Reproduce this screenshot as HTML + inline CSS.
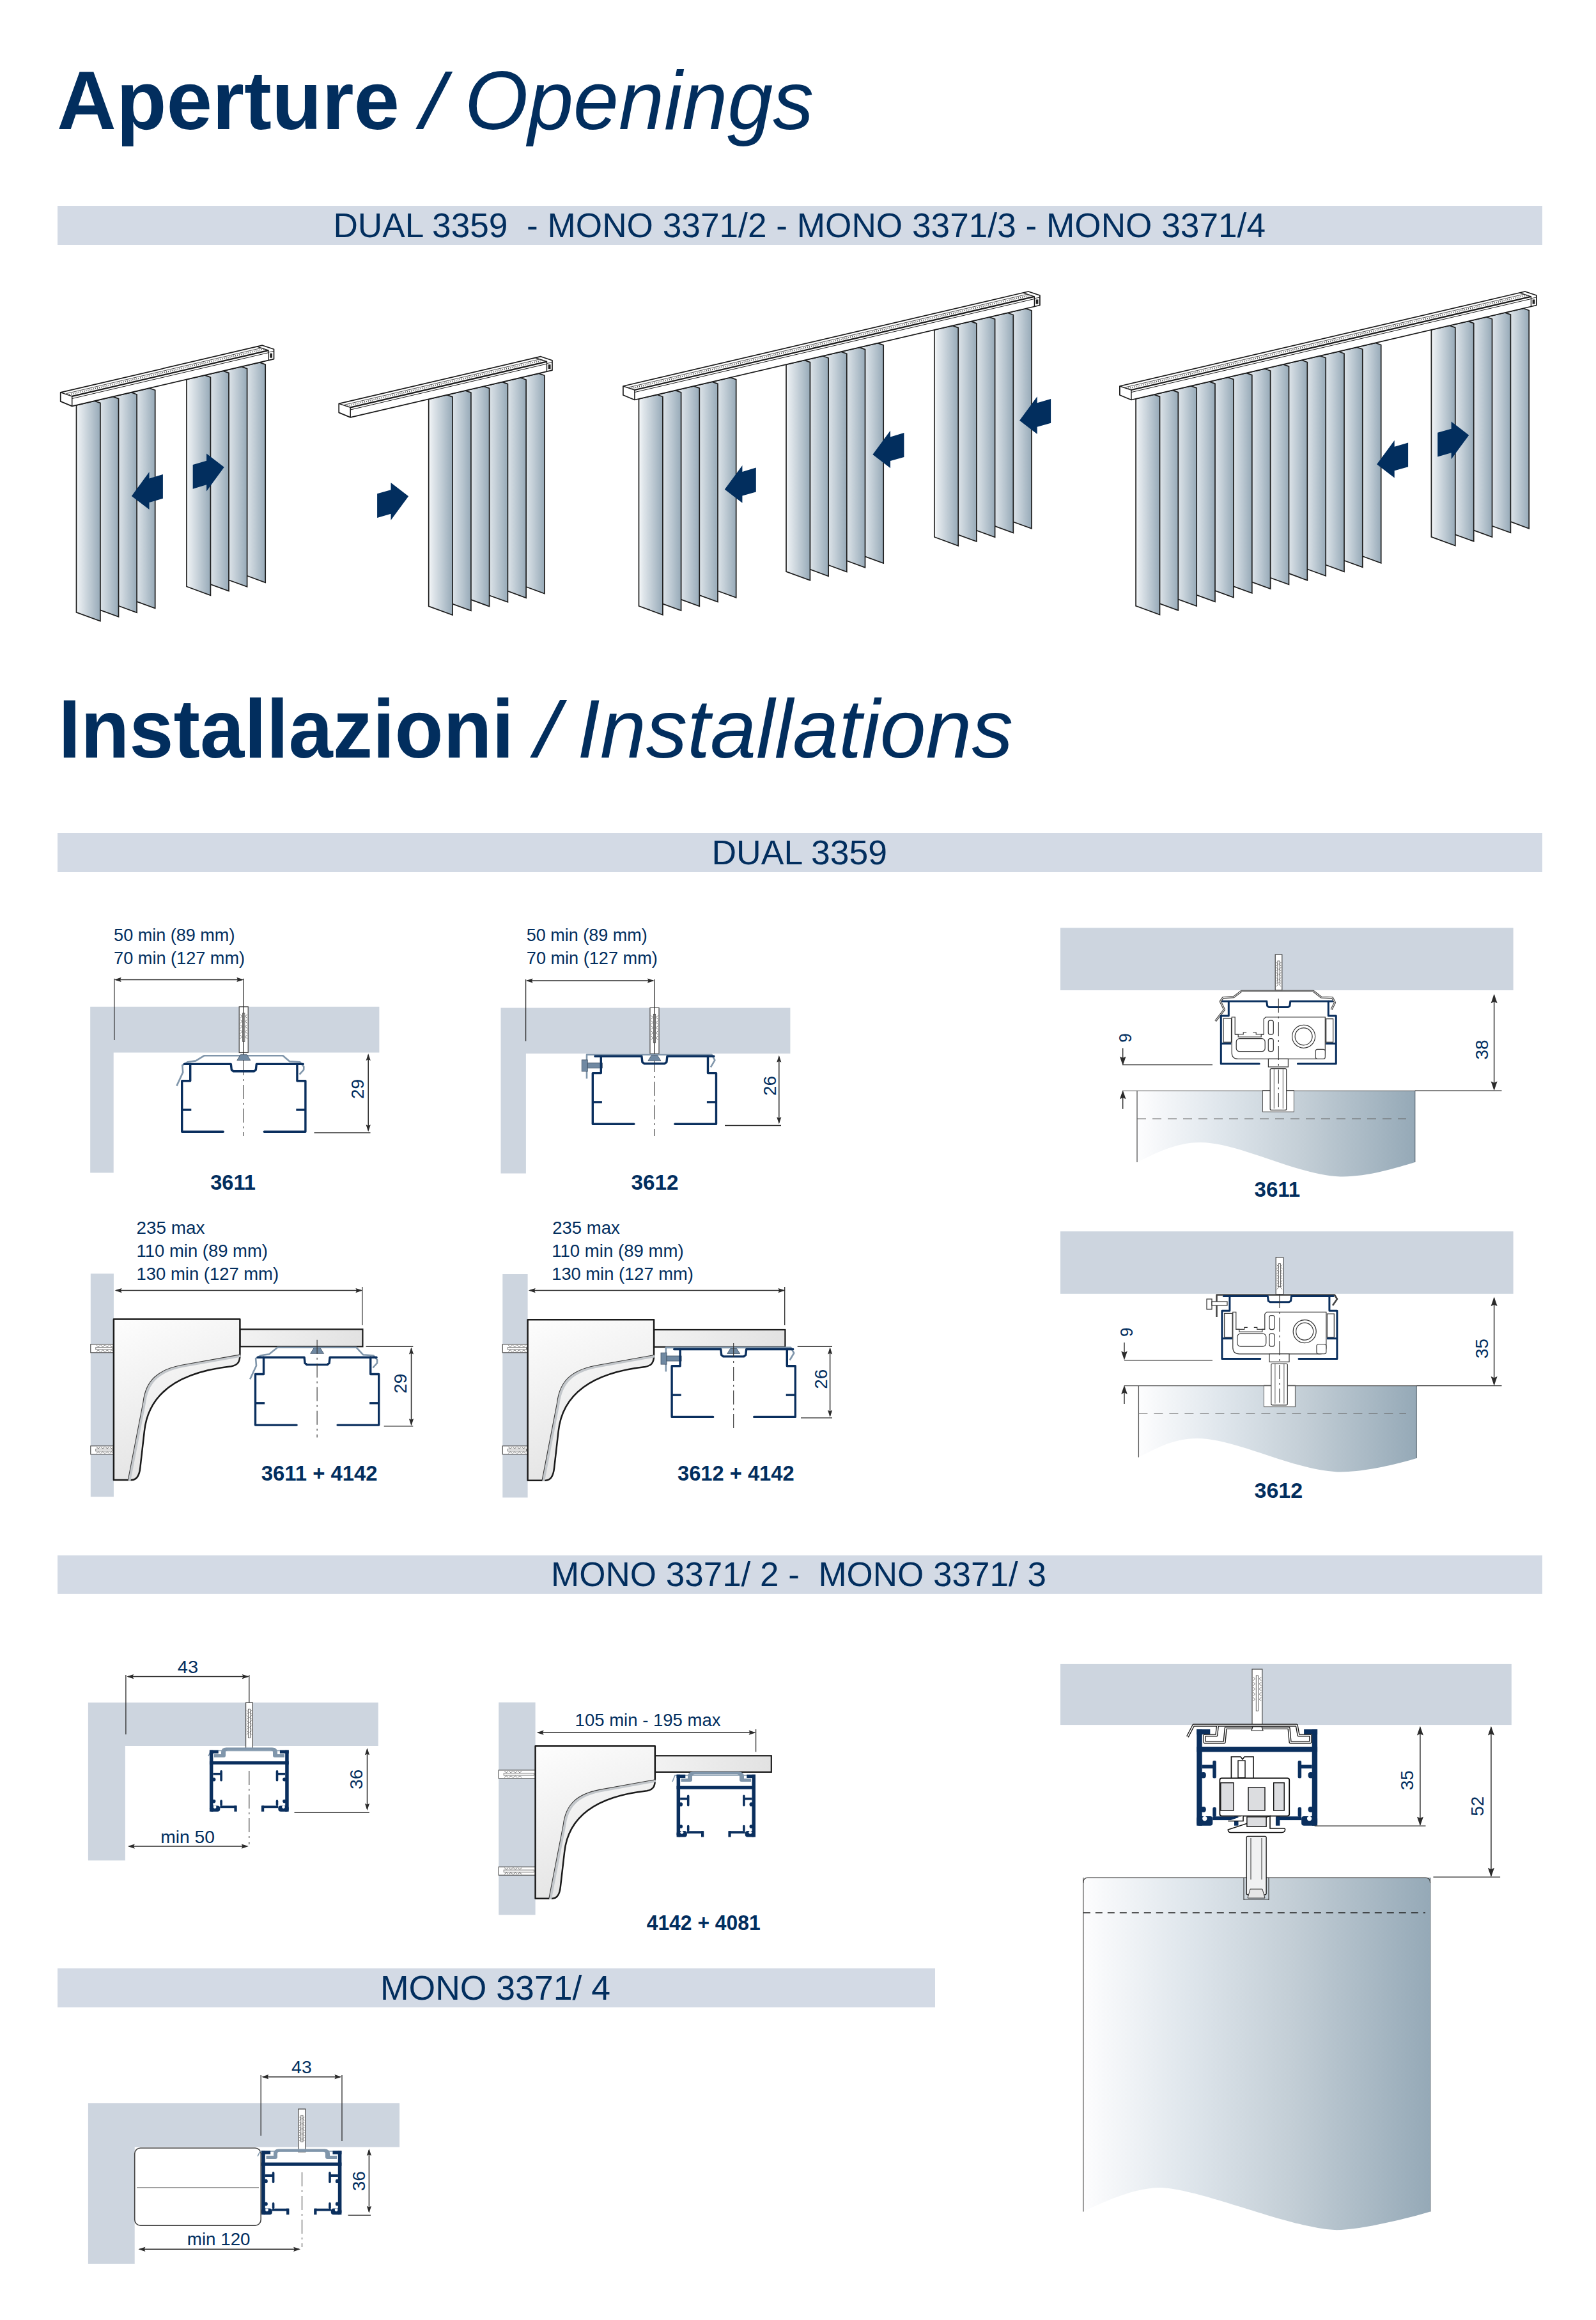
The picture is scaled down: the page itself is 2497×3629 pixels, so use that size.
<!DOCTYPE html><html><head><meta charset="utf-8"><style>html,body{margin:0;padding:0;background:#fff;}svg{display:block;font-family:"Liberation Sans",sans-serif;}</style></head><body><svg width="2497" height="3629" viewBox="0 0 2497 3629"><rect width="2497" height="3629" fill="#fff"/><defs><linearGradient id="slat" x1="0" y1="0" x2="1" y2="0"><stop offset="0" stop-color="#f8fafb"/><stop offset="0.12" stop-color="#e6ebef"/><stop offset="0.55" stop-color="#c0ccd5"/><stop offset="1" stop-color="#97aab8"/></linearGradient><linearGradient id="blindg" x1="0" y1="0" x2="1" y2="0"><stop offset="0" stop-color="#fdfdfe"/><stop offset="0.3" stop-color="#dfe6ec"/><stop offset="0.6" stop-color="#c3ced6"/><stop offset="1" stop-color="#95a9b7"/></linearGradient><linearGradient id="brk" x1="0" y1="0" x2="0.3" y2="1"><stop offset="0" stop-color="#fdfdfd"/><stop offset="1" stop-color="#e4e4e4"/></linearGradient><linearGradient id="arm" x1="0" y1="0" x2="1" y2="0"><stop offset="0" stop-color="#f2f2f2"/><stop offset="1" stop-color="#e2e2e2"/></linearGradient></defs>
<text x="89" y="202" font-size="129" font-weight="bold" font-style="normal" text-anchor="start" fill="#022e5e" textLength="536.1" lengthAdjust="spacingAndGlyphs" >Aperture</text>
<polygon points="650.2,202 662,202 708.2,112 697.1,112" fill="#022e5e"/>
<text x="726.9" y="202" font-size="129" font-weight="normal" font-style="italic" text-anchor="start" fill="#022e5e" textLength="546.1" lengthAdjust="spacingAndGlyphs" >Openings</text>
<text x="91.6" y="1185" font-size="129" font-weight="bold" font-style="normal" text-anchor="start" fill="#022e5e" textLength="712.6" lengthAdjust="spacingAndGlyphs" >Installazioni</text>
<polygon points="829.2,1185 840.8,1185 887.1,1095 876,1095" fill="#022e5e"/>
<text x="903" y="1185" font-size="129" font-weight="normal" font-style="italic" text-anchor="start" fill="#022e5e" textLength="682" lengthAdjust="spacingAndGlyphs" >Installations</text>
<rect x="90" y="322" width="2323" height="61" fill="#d3dae5"/>
<text x="521.4" y="370.7" font-size="53.2" font-weight="normal" font-style="normal" text-anchor="start" fill="#022e5e" textLength="1458.6" lengthAdjust="spacingAndGlyphs" xml:space="preserve">DUAL 3359&#160; - MONO 3371/2 - MONO 3371/3 - MONO 3371/4</text>
<rect x="90" y="1303" width="2323" height="61" fill="#d3dae5"/>
<text x="1113.4" y="1351.7" font-size="53.2" font-weight="normal" font-style="normal" text-anchor="start" fill="#022e5e" textLength="274.7" lengthAdjust="spacingAndGlyphs" >DUAL 3359</text>
<rect x="90" y="2433" width="2323" height="60" fill="#d3dae5"/>
<text x="862" y="2481" font-size="53.2" font-weight="normal" font-style="normal" text-anchor="start" fill="#022e5e" textLength="775" lengthAdjust="spacingAndGlyphs" >MONO 3371/ 2 -&#160; MONO 3371/ 3</text>
<rect x="90" y="3079" width="1373" height="61" fill="#d3dae5"/>
<text x="594.9" y="3128" font-size="53.2" font-weight="normal" font-style="normal" text-anchor="start" fill="#022e5e" textLength="360.1" lengthAdjust="spacingAndGlyphs" >MONO 3371/ 4</text>
<g>
<polygon points="205.3,613.8 233.7,607.1 242.7,610.3 242.7,951.5 205.3,937.8" fill="url(#slat)" stroke="#1d1d1d" stroke-width="1.7" stroke-linejoin="miter"/><polygon points="176.7,620.5 205.1,613.8 214.1,617 214.1,958.2 176.7,944.5" fill="url(#slat)" stroke="#1d1d1d" stroke-width="1.7" stroke-linejoin="miter"/><polygon points="148.1,627.1 176.5,620.5 185.5,623.7 185.5,964.9 148.1,951.1" fill="url(#slat)" stroke="#1d1d1d" stroke-width="1.7" stroke-linejoin="miter"/><polygon points="119.5,633.8 147.9,627.2 156.9,630.4 156.9,971.5 119.5,957.8" fill="url(#slat)" stroke="#1d1d1d" stroke-width="1.7" stroke-linejoin="miter"/>
<polygon points="377.8,573.5 406.2,566.9 415.2,570.1 415.2,911.2 377.8,897.5" fill="url(#slat)" stroke="#1d1d1d" stroke-width="1.7" stroke-linejoin="miter"/><polygon points="349.2,580.2 377.6,573.5 386.6,576.7 386.6,917.9 349.2,904.2" fill="url(#slat)" stroke="#1d1d1d" stroke-width="1.7" stroke-linejoin="miter"/><polygon points="320.6,586.9 349,580.2 358,583.4 358,924.6 320.6,910.9" fill="url(#slat)" stroke="#1d1d1d" stroke-width="1.7" stroke-linejoin="miter"/><polygon points="292,593.5 320.4,586.9 329.4,590.1 329.4,931.3 292,917.5" fill="url(#slat)" stroke="#1d1d1d" stroke-width="1.7" stroke-linejoin="miter"/>
<polygon points="94.7,613.9 410.5,540.2 428.5,546.2 428.5,561.7 112.7,635.4 94.7,627.9" fill="#fff" stroke="#1a1a1a" stroke-width="1.7" stroke-linejoin="round"/><polyline points="94.7,613.9 112.7,619.9 112.7,635.4" fill="none" stroke="#1a1a1a" stroke-width="1.5"/><line x1="103.5" y1="615.7" x2="408.8" y2="544.4" stroke="#333" stroke-width="0.9"/><line x1="108.2" y1="617.3" x2="413.5" y2="546" stroke="#444" stroke-width="2.2" stroke-dasharray="1 2"/><line x1="112.7" y1="619.9" x2="420" y2="548.1" stroke="#1a1a1a" stroke-width="2.3"/><line x1="112.7" y1="623.5" x2="420" y2="551.7" stroke="#1a1a1a" stroke-width="1"/><polyline points="402,542.1 420,548.1 420,563.6" fill="none" stroke="#1a1a1a" stroke-width="1.4"/><line x1="420" y1="551.1" x2="428.5" y2="549.2" stroke="#1a1a1a" stroke-width="0.9"/><rect x="422.2" y="552.7" width="3.8" height="7" fill="#222"/>
</g>
<g>
<polygon points="814.5,590.7 842.9,584.1 851.9,587.3 851.9,928.5 814.5,914.7" fill="url(#slat)" stroke="#1d1d1d" stroke-width="1.7" stroke-linejoin="miter"/><polygon points="785.7,597.4 814.1,590.8 823.1,594 823.1,935.2 785.7,921.4" fill="url(#slat)" stroke="#1d1d1d" stroke-width="1.7" stroke-linejoin="miter"/><polygon points="757,604.2 785.4,597.5 794.4,600.7 794.4,941.9 757,928.2" fill="url(#slat)" stroke="#1d1d1d" stroke-width="1.7" stroke-linejoin="miter"/><polygon points="728.2,610.9 756.6,604.2 765.6,607.4 765.6,948.6 728.2,934.9" fill="url(#slat)" stroke="#1d1d1d" stroke-width="1.7" stroke-linejoin="miter"/><polygon points="699.5,617.6 727.9,611 736.9,614.2 736.9,955.3 699.5,941.6" fill="url(#slat)" stroke="#1d1d1d" stroke-width="1.7" stroke-linejoin="miter"/><polygon points="670.7,624.3 699.1,617.7 708.1,620.9 708.1,962 670.7,948.3" fill="url(#slat)" stroke="#1d1d1d" stroke-width="1.7" stroke-linejoin="miter"/>
<polygon points="530.2,631.4 846,557.7 864,563.7 864,579.2 548.2,652.9 530.2,645.4" fill="#fff" stroke="#1a1a1a" stroke-width="1.7" stroke-linejoin="round"/><polyline points="530.2,631.4 548.2,637.4 548.2,652.9" fill="none" stroke="#1a1a1a" stroke-width="1.5"/><line x1="539" y1="633.2" x2="844.3" y2="561.9" stroke="#333" stroke-width="0.9"/><line x1="543.7" y1="634.8" x2="849" y2="563.5" stroke="#444" stroke-width="2.2" stroke-dasharray="1 2"/><line x1="548.2" y1="637.4" x2="855.5" y2="565.6" stroke="#1a1a1a" stroke-width="2.3"/><line x1="548.2" y1="641" x2="855.5" y2="569.2" stroke="#1a1a1a" stroke-width="1"/><polyline points="837.5,559.6 855.5,565.6 855.5,581.1" fill="none" stroke="#1a1a1a" stroke-width="1.4"/><line x1="855.5" y1="568.6" x2="864" y2="566.7" stroke="#1a1a1a" stroke-width="0.9"/><rect x="857.7" y="570.2" width="3.8" height="7" fill="#222"/>
</g>
<g>
<polygon points="1114.3,597.2 1142.7,590.5 1151.7,593.7 1151.7,934.9 1114.3,921.2" fill="url(#slat)" stroke="#1d1d1d" stroke-width="1.7" stroke-linejoin="miter"/><polygon points="1085.6,603.9 1114,597.2 1123,600.4 1123,941.6 1085.6,927.9" fill="url(#slat)" stroke="#1d1d1d" stroke-width="1.7" stroke-linejoin="miter"/><polygon points="1056.9,610.6 1085.3,603.9 1094.3,607.1 1094.3,948.3 1056.9,934.6" fill="url(#slat)" stroke="#1d1d1d" stroke-width="1.7" stroke-linejoin="miter"/><polygon points="1028.2,617.3 1056.6,610.6 1065.6,613.8 1065.6,955 1028.2,941.3" fill="url(#slat)" stroke="#1d1d1d" stroke-width="1.7" stroke-linejoin="miter"/><polygon points="999.5,624 1027.9,617.3 1036.9,620.5 1036.9,961.7 999.5,948" fill="url(#slat)" stroke="#1d1d1d" stroke-width="1.7" stroke-linejoin="miter"/>
<polygon points="1344.8,543.3 1373.2,536.7 1382.2,539.9 1382.2,881.1 1344.8,867.3" fill="url(#slat)" stroke="#1d1d1d" stroke-width="1.7" stroke-linejoin="miter"/><polygon points="1316.1,550 1344.5,543.4 1353.5,546.6 1353.5,887.8 1316.1,874" fill="url(#slat)" stroke="#1d1d1d" stroke-width="1.7" stroke-linejoin="miter"/><polygon points="1287.4,556.7 1315.8,550.1 1324.8,553.3 1324.8,894.5 1287.4,880.7" fill="url(#slat)" stroke="#1d1d1d" stroke-width="1.7" stroke-linejoin="miter"/><polygon points="1258.7,563.4 1287.1,556.8 1296.1,560 1296.1,901.2 1258.7,887.4" fill="url(#slat)" stroke="#1d1d1d" stroke-width="1.7" stroke-linejoin="miter"/><polygon points="1230,570.1 1258.4,563.5 1267.4,566.7 1267.4,907.9 1230,894.1" fill="url(#slat)" stroke="#1d1d1d" stroke-width="1.7" stroke-linejoin="miter"/>
<polygon points="1576.6,489.2 1605,482.6 1614,485.8 1614,826.9 1576.6,813.2" fill="url(#slat)" stroke="#1d1d1d" stroke-width="1.7" stroke-linejoin="miter"/><polygon points="1547.9,495.9 1576.3,489.3 1585.3,492.5 1585.3,833.6 1547.9,819.9" fill="url(#slat)" stroke="#1d1d1d" stroke-width="1.7" stroke-linejoin="miter"/><polygon points="1519.2,502.6 1547.6,496 1556.6,499.2 1556.6,840.3 1519.2,826.6" fill="url(#slat)" stroke="#1d1d1d" stroke-width="1.7" stroke-linejoin="miter"/><polygon points="1490.5,509.3 1518.9,502.7 1527.9,505.9 1527.9,847 1490.5,833.3" fill="url(#slat)" stroke="#1d1d1d" stroke-width="1.7" stroke-linejoin="miter"/><polygon points="1461.8,516 1490.2,509.4 1499.2,512.6 1499.2,853.7 1461.8,840" fill="url(#slat)" stroke="#1d1d1d" stroke-width="1.7" stroke-linejoin="miter"/>
<polygon points="974.9,604 1608.9,456 1626.9,462 1626.9,477.5 992.9,625.5 974.9,618" fill="#fff" stroke="#1a1a1a" stroke-width="1.7" stroke-linejoin="round"/><polyline points="974.9,604 992.9,610 992.9,625.5" fill="none" stroke="#1a1a1a" stroke-width="1.5"/><line x1="983.7" y1="605.8" x2="1607.2" y2="460.2" stroke="#333" stroke-width="0.9"/><line x1="988.4" y1="607.4" x2="1611.9" y2="461.8" stroke="#444" stroke-width="2.2" stroke-dasharray="1 2"/><line x1="992.9" y1="610" x2="1618.4" y2="463.9" stroke="#1a1a1a" stroke-width="2.3"/><line x1="992.9" y1="613.6" x2="1618.4" y2="467.5" stroke="#1a1a1a" stroke-width="1"/><polyline points="1600.4,457.9 1618.4,463.9 1618.4,479.4" fill="none" stroke="#1a1a1a" stroke-width="1.4"/><line x1="1618.4" y1="466.9" x2="1626.9" y2="465" stroke="#1a1a1a" stroke-width="0.9"/><rect x="1620.6" y="468.5" width="3.8" height="7" fill="#222"/>
</g>
<g>
<polygon points="2123.3,543 2151.7,536.3 2160.7,539.5 2160.7,880.7 2123.3,867" fill="url(#slat)" stroke="#1d1d1d" stroke-width="1.7" stroke-linejoin="miter"/><polygon points="2094.4,549.7 2122.8,543.1 2131.8,546.3 2131.8,887.4 2094.4,873.7" fill="url(#slat)" stroke="#1d1d1d" stroke-width="1.7" stroke-linejoin="miter"/><polygon points="2065.6,556.5 2094,549.8 2103,553 2103,894.2 2065.6,880.5" fill="url(#slat)" stroke="#1d1d1d" stroke-width="1.7" stroke-linejoin="miter"/><polygon points="2036.8,563.2 2065.2,556.6 2074.2,559.8 2074.2,900.9 2036.8,887.2" fill="url(#slat)" stroke="#1d1d1d" stroke-width="1.7" stroke-linejoin="miter"/><polygon points="2007.9,569.9 2036.3,563.3 2045.3,566.5 2045.3,907.7 2007.9,893.9" fill="url(#slat)" stroke="#1d1d1d" stroke-width="1.7" stroke-linejoin="miter"/><polygon points="1979,576.7 2007.5,570 2016.5,573.2 2016.5,914.4 1979,900.7" fill="url(#slat)" stroke="#1d1d1d" stroke-width="1.7" stroke-linejoin="miter"/><polygon points="1950.2,583.4 1978.6,576.8 1987.6,580 1987.6,921.1 1950.2,907.4" fill="url(#slat)" stroke="#1d1d1d" stroke-width="1.7" stroke-linejoin="miter"/><polygon points="1921.3,590.1 1949.8,583.5 1958.8,586.7 1958.8,927.9 1921.3,914.1" fill="url(#slat)" stroke="#1d1d1d" stroke-width="1.7" stroke-linejoin="miter"/><polygon points="1892.5,596.9 1920.9,590.2 1929.9,593.4 1929.9,934.6 1892.5,920.9" fill="url(#slat)" stroke="#1d1d1d" stroke-width="1.7" stroke-linejoin="miter"/><polygon points="1863.6,603.6 1892,597 1901,600.2 1901,941.3 1863.6,927.6" fill="url(#slat)" stroke="#1d1d1d" stroke-width="1.7" stroke-linejoin="miter"/><polygon points="1834.8,610.3 1863.2,603.7 1872.2,606.9 1872.2,948.1 1834.8,934.3" fill="url(#slat)" stroke="#1d1d1d" stroke-width="1.7" stroke-linejoin="miter"/><polygon points="1805.9,617.1 1834.3,610.5 1843.3,613.7 1843.3,954.8 1805.9,941.1" fill="url(#slat)" stroke="#1d1d1d" stroke-width="1.7" stroke-linejoin="miter"/><polygon points="1777.1,623.8 1805.5,617.2 1814.5,620.4 1814.5,961.5 1777.1,947.8" fill="url(#slat)" stroke="#1d1d1d" stroke-width="1.7" stroke-linejoin="miter"/>
<polygon points="2354.8,488.9 2383.2,482.3 2392.2,485.5 2392.2,826.7 2354.8,812.9" fill="url(#slat)" stroke="#1d1d1d" stroke-width="1.7" stroke-linejoin="miter"/><polygon points="2326,495.7 2354.4,489 2363.4,492.2 2363.4,833.4 2326,819.7" fill="url(#slat)" stroke="#1d1d1d" stroke-width="1.7" stroke-linejoin="miter"/><polygon points="2297.1,502.4 2325.5,495.8 2334.5,499 2334.5,840.1 2297.1,826.4" fill="url(#slat)" stroke="#1d1d1d" stroke-width="1.7" stroke-linejoin="miter"/><polygon points="2268.2,509.1 2296.7,502.5 2305.7,505.7 2305.7,846.9 2268.2,833.1" fill="url(#slat)" stroke="#1d1d1d" stroke-width="1.7" stroke-linejoin="miter"/><polygon points="2239.4,515.9 2267.8,509.2 2276.8,512.4 2276.8,853.6 2239.4,839.9" fill="url(#slat)" stroke="#1d1d1d" stroke-width="1.7" stroke-linejoin="miter"/>
<polygon points="1751.9,604 2385.9,456 2403.9,462 2403.9,477.5 1769.9,625.5 1751.9,618" fill="#fff" stroke="#1a1a1a" stroke-width="1.7" stroke-linejoin="round"/><polyline points="1751.9,604 1769.9,610 1769.9,625.5" fill="none" stroke="#1a1a1a" stroke-width="1.5"/><line x1="1760.7" y1="605.8" x2="2384.2" y2="460.2" stroke="#333" stroke-width="0.9"/><line x1="1765.4" y1="607.4" x2="2388.9" y2="461.8" stroke="#444" stroke-width="2.2" stroke-dasharray="1 2"/><line x1="1769.9" y1="610" x2="2395.4" y2="463.9" stroke="#1a1a1a" stroke-width="2.3"/><line x1="1769.9" y1="613.6" x2="2395.4" y2="467.5" stroke="#1a1a1a" stroke-width="1"/><polyline points="2377.4,457.9 2395.4,463.9 2395.4,479.4" fill="none" stroke="#1a1a1a" stroke-width="1.4"/><line x1="2395.4" y1="466.9" x2="2403.9" y2="465" stroke="#1a1a1a" stroke-width="0.9"/><rect x="2397.6" y="468.5" width="3.8" height="7" fill="#222"/>
</g>
<polygon points="205.9,775.9 233.5,797.1 233.5,785.9 254.9,779.8 254.9,742 233.5,748.4 233.5,738.3" fill="#022e5e"/>
<polygon points="350.7,730.8 323.1,709.6 323.1,720.8 301.7,726.9 301.7,764.7 323.1,758.3 323.1,768.4" fill="#022e5e"/>
<polygon points="639.1,776.2 611.5,755 611.5,766.2 590.1,772.3 590.1,810.1 611.5,803.7 611.5,813.8" fill="#022e5e"/>
<polygon points="1133.8,765.5 1161.4,786.7 1161.4,775.5 1182.8,769.4 1182.8,731.6 1161.4,738 1161.4,727.9" fill="#022e5e"/>
<polygon points="1365.4,711 1393,732.2 1393,721 1414.4,714.9 1414.4,677.1 1393,683.5 1393,673.4" fill="#022e5e"/>
<polygon points="1595.1,657.8 1622.7,679 1622.7,667.8 1644.1,661.7 1644.1,623.9 1622.7,630.3 1622.7,620.2" fill="#022e5e"/>
<polygon points="2154.1,726.3 2181.7,747.5 2181.7,736.3 2203.1,730.2 2203.1,692.4 2181.7,698.8 2181.7,688.7" fill="#022e5e"/>
<polygon points="2298.2,680.7 2270.6,659.5 2270.6,670.7 2249.2,676.8 2249.2,714.6 2270.6,708.2 2270.6,718.3" fill="#022e5e"/>
<path d="M141.2 1574.8H593.4V1646.5H177.7V1834.5H141.2Z" fill="#cdd5df"/>
<text x="178.1" y="1472.4" font-size="27.5" font-weight="normal" font-style="normal" text-anchor="start" fill="#022e5e" textLength="189.3" lengthAdjust="spacingAndGlyphs" >50 min (89 mm)</text>
<text x="178.1" y="1507.8" font-size="27.5" font-weight="normal" font-style="normal" text-anchor="start" fill="#022e5e" textLength="205" lengthAdjust="spacingAndGlyphs" >70 min (127 mm)</text>
<line x1="178.7" y1="1530.8" x2="178.7" y2="1626.9" stroke="#2b2b2b" stroke-width="1.3" />
<line x1="180.7" y1="1532.4" x2="379.3" y2="1532.4" stroke="#2b2b2b" stroke-width="1.5" />
<polygon points="178.7,1532.4 189.7,1528.8 188,1532.4 189.7,1536" fill="#2b2b2b"/>
<polygon points="381.3,1532.4 370.3,1536 371.9,1532.4 370.3,1528.8" fill="#2b2b2b"/>
<rect x="374.2" y="1574.8" width="14" height="71.7" fill="#fff" stroke="#444" stroke-width="1.2"/>
<rect x="379.6" y="1584.8" width="3.2" height="44.5" fill="none" stroke="#555" stroke-width="0.9"/>
<polyline points="375.7,1586.8 378.7,1589.8 375.7,1592.8" fill="none" stroke="#666" stroke-width="0.9"/>
<polyline points="386.7,1586.8 383.7,1589.8 386.7,1592.8" fill="none" stroke="#666" stroke-width="0.9"/>
<polyline points="375.7,1594.8 378.7,1597.8 375.7,1600.8" fill="none" stroke="#666" stroke-width="0.9"/>
<polyline points="386.7,1594.8 383.7,1597.8 386.7,1600.8" fill="none" stroke="#666" stroke-width="0.9"/>
<polyline points="375.7,1602.8 378.7,1605.8 375.7,1608.8" fill="none" stroke="#666" stroke-width="0.9"/>
<polyline points="386.7,1602.8 383.7,1605.8 386.7,1608.8" fill="none" stroke="#666" stroke-width="0.9"/>
<polyline points="375.7,1610.8 378.7,1613.8 375.7,1616.8" fill="none" stroke="#666" stroke-width="0.9"/>
<polyline points="386.7,1610.8 383.7,1613.8 386.7,1616.8" fill="none" stroke="#666" stroke-width="0.9"/>
<polyline points="375.7,1618.8 378.7,1621.8 375.7,1624.8" fill="none" stroke="#666" stroke-width="0.9"/>
<polyline points="386.7,1618.8 383.7,1621.8 386.7,1624.8" fill="none" stroke="#666" stroke-width="0.9"/>
<line x1="381.3" y1="1530.8" x2="381.3" y2="1660" stroke="#2b2b2b" stroke-width="1.3" />
<line x1="381.3" y1="1660" x2="381.3" y2="1777" stroke="#333" stroke-width="1.1" stroke-dasharray="22 6 3 6"/>
<path d="M276.4,1698.6 L286.2,1677.4 L285.3,1666.4 L293.3,1661.4 L306.3,1659.4 L319.3,1651.3 L442.6,1651.3 L453.3,1660.4 L469.3,1661.4 L475.3,1668.4 L475.2,1673.4 L468.6,1680.7" fill="none" stroke="#8096ab" stroke-width="2.6" stroke-linejoin="round"/>
<polygon points="376.3,1649.7 386.3,1649.7 391.8,1658.5 370.8,1658.5" fill="#7089a2" stroke="#3d4f63" stroke-width="0.8"/>
<polyline points="288.3,1664.4 361.3,1664.4 362.3,1673.4 365.3,1675.8 397.3,1675.8 400.3,1673.4 401.3,1664.4 474.3,1664.4" fill="none" stroke="#0a2f5e" stroke-width="3.4" stroke-linejoin="round" stroke-linecap="round"/>
<polyline points="297.7,1664.4 297.7,1690.7 284.7,1690.7 284.7,1770.3 349.3,1770.3" fill="none" stroke="#0a2f5e" stroke-width="3.4" stroke-linejoin="round" stroke-linecap="round"/>
<line x1="284.7" y1="1736" x2="299.3" y2="1736" stroke="#0a2f5e" stroke-width="3.4" />
<polyline points="464.9,1664.4 464.9,1690.7 477.9,1690.7 477.9,1770.3 413.3,1770.3" fill="none" stroke="#0a2f5e" stroke-width="3.4" stroke-linejoin="round" stroke-linecap="round"/>
<line x1="477.9" y1="1736" x2="463.3" y2="1736" stroke="#0a2f5e" stroke-width="3.4" />
<line x1="576.2" y1="1650" x2="576.2" y2="1768.3" stroke="#2b2b2b" stroke-width="1.5" />
<polygon points="576.2,1648 579.8,1659 576.2,1657.3 572.6,1659" fill="#2b2b2b"/>
<polygon points="576.2,1770.3 572.6,1759.3 576.2,1761 579.8,1759.3" fill="#2b2b2b"/>
<line x1="491.5" y1="1771.9" x2="579.5" y2="1771.9" stroke="#2b2b2b" stroke-width="1.3" />
<text transform="translate(558.9,1703.5) rotate(-90)" x="0" y="10.1" font-size="28" text-anchor="middle" fill="#022e5e" textLength="31" lengthAdjust="spacingAndGlyphs">29</text>
<text x="329.2" y="1861" font-size="32.5" font-weight="bold" font-style="normal" text-anchor="start" fill="#022e5e" textLength="70.7" lengthAdjust="spacingAndGlyphs" >3611</text>
<path d="M783.5 1576.4H1236.4V1648.1H822.9V1835.4H783.5Z" fill="#cdd5df"/>
<text x="823.8" y="1472.4" font-size="27.5" font-weight="normal" font-style="normal" text-anchor="start" fill="#022e5e" textLength="188.9" lengthAdjust="spacingAndGlyphs" >50 min (89 mm)</text>
<text x="823.8" y="1507.8" font-size="27.5" font-weight="normal" font-style="normal" text-anchor="start" fill="#022e5e" textLength="205" lengthAdjust="spacingAndGlyphs" >70 min (127 mm)</text>
<line x1="822.6" y1="1532" x2="822.6" y2="1628.5" stroke="#2b2b2b" stroke-width="1.3" />
<line x1="824.6" y1="1534" x2="1021.9" y2="1534" stroke="#2b2b2b" stroke-width="1.5" />
<polygon points="822.6,1534 833.6,1530.4 832,1534 833.6,1537.6" fill="#2b2b2b"/>
<polygon points="1023.9,1534 1012.9,1537.6 1014.5,1534 1012.9,1530.4" fill="#2b2b2b"/>
<rect x="1017" y="1576.4" width="14" height="71.7" fill="#fff" stroke="#444" stroke-width="1.2"/>
<rect x="1022.4" y="1586.4" width="3.2" height="44.5" fill="none" stroke="#555" stroke-width="0.9"/>
<polyline points="1018.5,1588.4 1021.5,1591.4 1018.5,1594.4" fill="none" stroke="#666" stroke-width="0.9"/>
<polyline points="1029.5,1588.4 1026.5,1591.4 1029.5,1594.4" fill="none" stroke="#666" stroke-width="0.9"/>
<polyline points="1018.5,1596.4 1021.5,1599.4 1018.5,1602.4" fill="none" stroke="#666" stroke-width="0.9"/>
<polyline points="1029.5,1596.4 1026.5,1599.4 1029.5,1602.4" fill="none" stroke="#666" stroke-width="0.9"/>
<polyline points="1018.5,1604.4 1021.5,1607.4 1018.5,1610.4" fill="none" stroke="#666" stroke-width="0.9"/>
<polyline points="1029.5,1604.4 1026.5,1607.4 1029.5,1610.4" fill="none" stroke="#666" stroke-width="0.9"/>
<polyline points="1018.5,1612.4 1021.5,1615.4 1018.5,1618.4" fill="none" stroke="#666" stroke-width="0.9"/>
<polyline points="1029.5,1612.4 1026.5,1615.4 1029.5,1618.4" fill="none" stroke="#666" stroke-width="0.9"/>
<polyline points="1018.5,1620.4 1021.5,1623.4 1018.5,1626.4" fill="none" stroke="#666" stroke-width="0.9"/>
<polyline points="1029.5,1620.4 1026.5,1623.4 1029.5,1626.4" fill="none" stroke="#666" stroke-width="0.9"/>
<line x1="1023.9" y1="1532" x2="1023.9" y2="1655" stroke="#2b2b2b" stroke-width="1.3" />
<line x1="1023.9" y1="1655" x2="1023.9" y2="1777" stroke="#333" stroke-width="1.1" stroke-dasharray="22 6 3 6"/>
<polyline points="918,1687.2 918,1649.7 1113.5,1649.7 1118.4,1658.3 1111.9,1669.3" fill="none" stroke="#8096ab" stroke-width="2.6" stroke-linejoin="round"/>
<rect x="910.2" y="1657.9" width="9" height="18" fill="#7089a2" stroke="#3d4f63" stroke-width="0.8"/>
<rect x="919.3" y="1662.8" width="23" height="8" fill="#7089a2" stroke="#3d4f63" stroke-width="0.8"/>
<polygon points="1018.9,1651.3 1028.9,1651.3 1033.9,1659.3 1013.9,1659.3" fill="#7089a2" stroke="#3d4f63" stroke-width="0.8"/>
<polyline points="930.9,1652.3 1003.9,1652.3 1004.9,1661.3 1007.9,1663.7 1039.9,1663.7 1042.9,1661.3 1043.9,1652.3 1116.9,1652.3" fill="none" stroke="#0a2f5e" stroke-width="3.4" stroke-linejoin="round" stroke-linecap="round"/>
<polyline points="940.3,1652.3 940.3,1678.6 927.3,1678.6 927.3,1758.2 991.9,1758.2" fill="none" stroke="#0a2f5e" stroke-width="3.4" stroke-linejoin="round" stroke-linecap="round"/>
<line x1="927.3" y1="1723.9" x2="941.9" y2="1723.9" stroke="#0a2f5e" stroke-width="3.4" />
<polyline points="1107.5,1652.3 1107.5,1678.6 1120.5,1678.6 1120.5,1758.2 1055.9,1758.2" fill="none" stroke="#0a2f5e" stroke-width="3.4" stroke-linejoin="round" stroke-linecap="round"/>
<line x1="1120.5" y1="1723.9" x2="1105.9" y2="1723.9" stroke="#0a2f5e" stroke-width="3.4" />
<line x1="1218.8" y1="1652.7" x2="1218.8" y2="1756.2" stroke="#2b2b2b" stroke-width="1.5" />
<polygon points="1218.8,1650.7 1222.4,1661.7 1218.8,1660 1215.2,1661.7" fill="#2b2b2b"/>
<polygon points="1218.8,1758.2 1215.2,1747.2 1218.8,1748.9 1222.4,1747.2" fill="#2b2b2b"/>
<line x1="1134" y1="1760.5" x2="1222" y2="1760.5" stroke="#2b2b2b" stroke-width="1.3" />
<text transform="translate(1203.8,1698.6) rotate(-90)" x="0" y="10.1" font-size="28" text-anchor="middle" fill="#022e5e" textLength="31" lengthAdjust="spacingAndGlyphs">26</text>
<text x="987.4" y="1861" font-size="32.5" font-weight="bold" font-style="normal" text-anchor="start" fill="#022e5e" textLength="74" lengthAdjust="spacingAndGlyphs" >3612</text>
<rect x="141.8" y="1992.3" width="36.1" height="349.1" fill="#cdd5df"/>
<rect x="141.8" y="2102.8" width="36.1" height="13" fill="#fff" stroke="#444" stroke-width="1.1"/>
<rect x="149.8" y="2107.7" width="26.1" height="3.2" fill="none" stroke="#666" stroke-width="0.9"/>
<polyline points="150.8,2104.3 153.8,2106.8 156.8,2104.3" fill="none" stroke="#666" stroke-width="0.9"/>
<polyline points="150.8,2114.3 153.8,2111.8 156.8,2114.3" fill="none" stroke="#666" stroke-width="0.9"/>
<polyline points="157.8,2104.3 160.8,2106.8 163.8,2104.3" fill="none" stroke="#666" stroke-width="0.9"/>
<polyline points="157.8,2114.3 160.8,2111.8 163.8,2114.3" fill="none" stroke="#666" stroke-width="0.9"/>
<polyline points="164.8,2104.3 167.8,2106.8 170.8,2104.3" fill="none" stroke="#666" stroke-width="0.9"/>
<polyline points="164.8,2114.3 167.8,2111.8 170.8,2114.3" fill="none" stroke="#666" stroke-width="0.9"/>
<polyline points="171.8,2104.3 174.8,2106.8 177.8,2104.3" fill="none" stroke="#666" stroke-width="0.9"/>
<polyline points="171.8,2114.3 174.8,2111.8 177.8,2114.3" fill="none" stroke="#666" stroke-width="0.9"/>
<rect x="141.8" y="2261.8" width="36.1" height="13" fill="#fff" stroke="#444" stroke-width="1.1"/>
<rect x="149.8" y="2266.7" width="26.1" height="3.2" fill="none" stroke="#666" stroke-width="0.9"/>
<polyline points="150.8,2263.3 153.8,2265.8 156.8,2263.3" fill="none" stroke="#666" stroke-width="0.9"/>
<polyline points="150.8,2273.3 153.8,2270.8 156.8,2273.3" fill="none" stroke="#666" stroke-width="0.9"/>
<polyline points="157.8,2263.3 160.8,2265.8 163.8,2263.3" fill="none" stroke="#666" stroke-width="0.9"/>
<polyline points="157.8,2273.3 160.8,2270.8 163.8,2273.3" fill="none" stroke="#666" stroke-width="0.9"/>
<polyline points="164.8,2263.3 167.8,2265.8 170.8,2263.3" fill="none" stroke="#666" stroke-width="0.9"/>
<polyline points="164.8,2273.3 167.8,2270.8 170.8,2273.3" fill="none" stroke="#666" stroke-width="0.9"/>
<polyline points="171.8,2263.3 174.8,2265.8 177.8,2263.3" fill="none" stroke="#666" stroke-width="0.9"/>
<polyline points="171.8,2273.3 174.8,2270.8 177.8,2273.3" fill="none" stroke="#666" stroke-width="0.9"/>
<text x="213.6" y="1929.8" font-size="27.5" font-weight="normal" font-style="normal" text-anchor="start" fill="#022e5e" textLength="106.8" lengthAdjust="spacingAndGlyphs" >235 max</text>
<text x="213.6" y="1966" font-size="27.5" font-weight="normal" font-style="normal" text-anchor="start" fill="#022e5e" textLength="205.4" lengthAdjust="spacingAndGlyphs" >110 min (89 mm)</text>
<text x="213.6" y="2002.1" font-size="27.5" font-weight="normal" font-style="normal" text-anchor="start" fill="#022e5e" textLength="222.5" lengthAdjust="spacingAndGlyphs" >130 min (127 mm)</text>
<line x1="181.6" y1="2018.6" x2="565.4" y2="2018.6" stroke="#2b2b2b" stroke-width="1.5" />
<polygon points="179.6,2018.6 190.6,2015 188.9,2018.6 190.6,2022.2" fill="#2b2b2b"/>
<polygon points="567.4,2018.6 556.4,2022.2 558,2018.6 556.4,2015" fill="#2b2b2b"/>
<line x1="566.7" y1="2013" x2="566.7" y2="2073" stroke="#2b2b2b" stroke-width="1.3" />
<g>
<rect x="375.4" y="2079.3" width="192" height="27" fill="url(#arm)" stroke="#1a1a1a" stroke-width="2.2"/>
<path d="M177.9,2063.5 L375.4,2063.5 L375.4,2119.5 C375.4,2131.5 370.9,2135.5 361.9,2137.3 C287.9,2145.5 232.9,2173.5 225.9,2238.5 L219.4,2295.5 C217.9,2309.5 212.9,2315 205.9,2315 L177.9,2315 Z" fill="url(#brk)" stroke="#1a1a1a" stroke-width="2.5" stroke-linejoin="round"/>
<path d="M374.4,2119.1 L282.9,2135.5 C247.9,2142.5 227.9,2158.5 223.9,2193.5 L200.4,2314.5" fill="none" stroke="#c3c7cb" stroke-width="4" transform="translate(2,1.6)"/>
<path d="M374.4,2119.1 L282.9,2135.5 C247.9,2142.5 227.9,2158.5 223.9,2193.5 L200.4,2314.5" fill="none" stroke="#3a3a3a" stroke-width="1.1"/>
</g>
<polyline points="391.2,2157.4 401,2136.2 400.1,2125.2 408.1,2120.2 421.1,2118.2 434.1,2107.7 557.4,2107.7 568.1,2119.2 584.1,2120.2 590.1,2127.2 590,2132.2 583.4,2139.5" fill="none" stroke="#8096ab" stroke-width="2.6" stroke-linejoin="round"/>
<polygon points="491.1,2108.5 501.1,2108.5 506.6,2117.3 485.6,2117.3" fill="#7089a2" stroke="#3d4f63" stroke-width="0.8"/>
<polyline points="403.1,2123.2 476.1,2123.2 477.1,2132.2 480.1,2134.6 512.1,2134.6 515.1,2132.2 516.1,2123.2 589.1,2123.2" fill="none" stroke="#0a2f5e" stroke-width="3.4" stroke-linejoin="round" stroke-linecap="round"/>
<polyline points="412.5,2123.2 412.5,2149.5 399.5,2149.5 399.5,2229.1 464.1,2229.1" fill="none" stroke="#0a2f5e" stroke-width="3.4" stroke-linejoin="round" stroke-linecap="round"/>
<line x1="399.5" y1="2194.8" x2="414.1" y2="2194.8" stroke="#0a2f5e" stroke-width="3.4" />
<polyline points="579.7,2123.2 579.7,2149.5 592.7,2149.5 592.7,2229.1 528.1,2229.1" fill="none" stroke="#0a2f5e" stroke-width="3.4" stroke-linejoin="round" stroke-linecap="round"/>
<line x1="592.7" y1="2194.8" x2="578.1" y2="2194.8" stroke="#0a2f5e" stroke-width="3.4" />
<line x1="496.1" y1="2095.8" x2="496.1" y2="2248.4" stroke="#333" stroke-width="1.1" stroke-dasharray="22 6 3 6"/>
<line x1="643.5" y1="2109.4" x2="643.5" y2="2228.2" stroke="#2b2b2b" stroke-width="1.5" />
<polygon points="643.5,2107.4 647.1,2118.4 643.5,2116.8 639.9,2118.4" fill="#2b2b2b"/>
<polygon points="643.5,2230.2 639.9,2219.2 643.5,2220.8 647.1,2219.2" fill="#2b2b2b"/>
<line x1="572.6" y1="2106.3" x2="646.3" y2="2106.3" stroke="#2b2b2b" stroke-width="1.3" />
<line x1="600.7" y1="2230.9" x2="646.3" y2="2230.9" stroke="#2b2b2b" stroke-width="1.3" />
<text transform="translate(626,2164.2) rotate(-90)" x="0" y="10.1" font-size="28" text-anchor="middle" fill="#022e5e" textLength="31" lengthAdjust="spacingAndGlyphs">29</text>
<text x="408.7" y="2316" font-size="32.5" font-weight="bold" font-style="normal" text-anchor="start" fill="#022e5e" textLength="181.9" lengthAdjust="spacingAndGlyphs" >3611 + 4142</text>
<rect x="786.3" y="1993" width="39.3" height="349.5" fill="#cdd5df"/>
<rect x="786.3" y="2102.8" width="39.3" height="13" fill="#fff" stroke="#444" stroke-width="1.1"/>
<rect x="794.3" y="2107.7" width="29.3" height="3.2" fill="none" stroke="#666" stroke-width="0.9"/>
<polyline points="795.3,2104.3 798.3,2106.8 801.3,2104.3" fill="none" stroke="#666" stroke-width="0.9"/>
<polyline points="795.3,2114.3 798.3,2111.8 801.3,2114.3" fill="none" stroke="#666" stroke-width="0.9"/>
<polyline points="802.3,2104.3 805.3,2106.8 808.3,2104.3" fill="none" stroke="#666" stroke-width="0.9"/>
<polyline points="802.3,2114.3 805.3,2111.8 808.3,2114.3" fill="none" stroke="#666" stroke-width="0.9"/>
<polyline points="809.3,2104.3 812.3,2106.8 815.3,2104.3" fill="none" stroke="#666" stroke-width="0.9"/>
<polyline points="809.3,2114.3 812.3,2111.8 815.3,2114.3" fill="none" stroke="#666" stroke-width="0.9"/>
<polyline points="816.3,2104.3 819.3,2106.8 822.3,2104.3" fill="none" stroke="#666" stroke-width="0.9"/>
<polyline points="816.3,2114.3 819.3,2111.8 822.3,2114.3" fill="none" stroke="#666" stroke-width="0.9"/>
<rect x="786.3" y="2261.8" width="39.3" height="13" fill="#fff" stroke="#444" stroke-width="1.1"/>
<rect x="794.3" y="2266.7" width="29.3" height="3.2" fill="none" stroke="#666" stroke-width="0.9"/>
<polyline points="795.3,2263.3 798.3,2265.8 801.3,2263.3" fill="none" stroke="#666" stroke-width="0.9"/>
<polyline points="795.3,2273.3 798.3,2270.8 801.3,2273.3" fill="none" stroke="#666" stroke-width="0.9"/>
<polyline points="802.3,2263.3 805.3,2265.8 808.3,2263.3" fill="none" stroke="#666" stroke-width="0.9"/>
<polyline points="802.3,2273.3 805.3,2270.8 808.3,2273.3" fill="none" stroke="#666" stroke-width="0.9"/>
<polyline points="809.3,2263.3 812.3,2265.8 815.3,2263.3" fill="none" stroke="#666" stroke-width="0.9"/>
<polyline points="809.3,2273.3 812.3,2270.8 815.3,2273.3" fill="none" stroke="#666" stroke-width="0.9"/>
<polyline points="816.3,2263.3 819.3,2265.8 822.3,2263.3" fill="none" stroke="#666" stroke-width="0.9"/>
<polyline points="816.3,2273.3 819.3,2270.8 822.3,2273.3" fill="none" stroke="#666" stroke-width="0.9"/>
<text x="864.2" y="1929.8" font-size="27.5" font-weight="normal" font-style="normal" text-anchor="start" fill="#022e5e" textLength="105.6" lengthAdjust="spacingAndGlyphs" >235 max</text>
<text x="863.2" y="1966" font-size="27.5" font-weight="normal" font-style="normal" text-anchor="start" fill="#022e5e" textLength="206.5" lengthAdjust="spacingAndGlyphs" >110 min (89 mm)</text>
<text x="863.2" y="2002.1" font-size="27.5" font-weight="normal" font-style="normal" text-anchor="start" fill="#022e5e" textLength="221.7" lengthAdjust="spacingAndGlyphs" >130 min (127 mm)</text>
<line x1="828.7" y1="2018.6" x2="1226.4" y2="2018.6" stroke="#2b2b2b" stroke-width="1.5" />
<polygon points="826.7,2018.6 837.7,2015 836.1,2018.6 837.7,2022.2" fill="#2b2b2b"/>
<polygon points="1228.4,2018.6 1217.4,2022.2 1219.1,2018.6 1217.4,2015" fill="#2b2b2b"/>
<line x1="1227.7" y1="2013" x2="1227.7" y2="2073" stroke="#2b2b2b" stroke-width="1.3" />
<g>
<rect x="1023.1" y="2080" width="205.3" height="27" fill="url(#arm)" stroke="#1a1a1a" stroke-width="2.2"/>
<path d="M825.6,2064.2 L1023.1,2064.2 L1023.1,2120.2 C1023.1,2132.2 1018.6,2136.2 1009.6,2138 C935.6,2146.2 880.6,2174.2 873.6,2239.2 L867.1,2296.2 C865.6,2310.2 860.6,2315.7 853.6,2315.7 L825.6,2315.7 Z" fill="url(#brk)" stroke="#1a1a1a" stroke-width="2.5" stroke-linejoin="round"/>
<path d="M1022.1,2119.8 L930.6,2136.2 C895.6,2143.2 875.6,2159.2 871.6,2194.2 L848.1,2315.2" fill="none" stroke="#c3c7cb" stroke-width="4" transform="translate(2,1.6)"/>
<path d="M1022.1,2119.8 L930.6,2136.2 C895.6,2143.2 875.6,2159.2 871.6,2194.2 L848.1,2315.2" fill="none" stroke="#3a3a3a" stroke-width="1.1"/>
</g>
<polyline points="1041.8,2145.4 1041.8,2107.9 1237.3,2107.9 1242.2,2116.5 1235.7,2127.5" fill="none" stroke="#8096ab" stroke-width="2.6" stroke-linejoin="round"/>
<rect x="1034" y="2116.1" width="9" height="18" fill="#7089a2" stroke="#3d4f63" stroke-width="0.8"/>
<rect x="1043.1" y="2121" width="23" height="8" fill="#7089a2" stroke="#3d4f63" stroke-width="0.8"/>
<polygon points="1142.7,2109.5 1152.7,2109.5 1157.7,2117.5 1137.7,2117.5" fill="#7089a2" stroke="#3d4f63" stroke-width="0.8"/>
<polyline points="1054.7,2110.5 1127.7,2110.5 1128.7,2119.5 1131.7,2121.9 1163.7,2121.9 1166.7,2119.5 1167.7,2110.5 1240.7,2110.5" fill="none" stroke="#0a2f5e" stroke-width="3.4" stroke-linejoin="round" stroke-linecap="round"/>
<polyline points="1064.1,2110.5 1064.1,2136.8 1051.1,2136.8 1051.1,2216.4 1115.7,2216.4" fill="none" stroke="#0a2f5e" stroke-width="3.4" stroke-linejoin="round" stroke-linecap="round"/>
<line x1="1051.1" y1="2182.1" x2="1065.7" y2="2182.1" stroke="#0a2f5e" stroke-width="3.4" />
<polyline points="1231.3,2110.5 1231.3,2136.8 1244.3,2136.8 1244.3,2216.4 1179.7,2216.4" fill="none" stroke="#0a2f5e" stroke-width="3.4" stroke-linejoin="round" stroke-linecap="round"/>
<line x1="1244.3" y1="2182.1" x2="1229.7" y2="2182.1" stroke="#0a2f5e" stroke-width="3.4" />
<line x1="1147.7" y1="2101" x2="1147.7" y2="2237" stroke="#333" stroke-width="1.1" stroke-dasharray="22 6 3 6"/>
<line x1="1298.6" y1="2109.4" x2="1298.6" y2="2214.8" stroke="#2b2b2b" stroke-width="1.5" />
<polygon points="1298.6,2107.4 1302.2,2118.4 1298.6,2116.8 1295,2118.4" fill="#2b2b2b"/>
<polygon points="1298.6,2216.8 1295,2205.8 1298.6,2207.5 1302.2,2205.8" fill="#2b2b2b"/>
<line x1="1247.7" y1="2106.3" x2="1302" y2="2106.3" stroke="#2b2b2b" stroke-width="1.3" />
<line x1="1253" y1="2217.9" x2="1302" y2="2217.9" stroke="#2b2b2b" stroke-width="1.3" />
<text transform="translate(1283.6,2157.2) rotate(-90)" x="0" y="10.1" font-size="28" text-anchor="middle" fill="#022e5e" textLength="31" lengthAdjust="spacingAndGlyphs">26</text>
<text x="1060" y="2316" font-size="32.5" font-weight="bold" font-style="normal" text-anchor="start" fill="#022e5e" textLength="182.6" lengthAdjust="spacingAndGlyphs" >3612 + 4142</text>
<rect x="1659" y="1451.4" width="708.6" height="97.6" fill="#cdd5df"/>
<path d="M1779 1706.2 H2213.8 V1818.1 C2183.8,1827.1 2137,1841.5 2097,1840.5 C2027,1837.5 1938,1787 1878,1787 C1838,1787 1804,1806.1 1779,1818.1 Z" fill="url(#blindg)"/>
<line x1="1779" y1="1706.2" x2="1779" y2="1818.1" stroke="#555" stroke-width="1.3" />
<line x1="2213.8" y1="1706.2" x2="2213.8" y2="1818.1" stroke="#5d6b76" stroke-width="1.2" />
<line x1="1779" y1="1750" x2="2200" y2="1750" stroke="#666" stroke-width="1.1" stroke-dasharray="14 10"/>
<rect x="1975.5" y="1705.5" width="48.9" height="33.6" fill="#fff" stroke="#555" stroke-width="1"/>
<line x1="1756.7" y1="1706.2" x2="2213.8" y2="1706.2" stroke="#555" stroke-width="1.1" />
<line x1="2213.8" y1="1706.2" x2="2349.5" y2="1706.2" stroke="#2b2b2b" stroke-width="1.3" />
<rect x="1995.2" y="1493.1" width="10.6" height="55.8" fill="#fff" stroke="#444" stroke-width="1.2"/>
<rect x="1998.9" y="1503.1" width="3.2" height="34.6" fill="none" stroke="#555" stroke-width="0.9"/>
<polyline points="1996.7,1505.1 1999.7,1508.1 1996.7,1511.1" fill="none" stroke="#666" stroke-width="0.9"/>
<polyline points="2004.3,1505.1 2001.3,1508.1 2004.3,1511.1" fill="none" stroke="#666" stroke-width="0.9"/>
<polyline points="1996.7,1513.1 1999.7,1516.1 1996.7,1519.1" fill="none" stroke="#666" stroke-width="0.9"/>
<polyline points="2004.3,1513.1 2001.3,1516.1 2004.3,1519.1" fill="none" stroke="#666" stroke-width="0.9"/>
<polyline points="1996.7,1521.1 1999.7,1524.1 1996.7,1527.1" fill="none" stroke="#666" stroke-width="0.9"/>
<polyline points="2004.3,1521.1 2001.3,1524.1 2004.3,1527.1" fill="none" stroke="#666" stroke-width="0.9"/>
<polyline points="1996.7,1529.1 1999.7,1532.1 1996.7,1535.1" fill="none" stroke="#666" stroke-width="0.9"/>
<polyline points="2004.3,1529.1 2001.3,1532.1 2004.3,1535.1" fill="none" stroke="#666" stroke-width="0.9"/>
<polyline points="1996.7,1537.1 1999.7,1540.1 1996.7,1543.1" fill="none" stroke="#666" stroke-width="0.9"/>
<polyline points="2004.3,1537.1 2001.3,1540.1 2004.3,1543.1" fill="none" stroke="#666" stroke-width="0.9"/>
<polyline points="1901.7,1597.2 1915.5,1579.2 1909.3,1566.5 1913.4,1560.6 1930,1559.7 1942.4,1550.3 2054.7,1550.3 2067.1,1560 2084.4,1560.6 2088.5,1568.2 2083,1579.2" fill="none" stroke="#444" stroke-width="3.2" stroke-linejoin="round"/>
<polyline points="1901.7,1597.2 1915.5,1579.2 1909.3,1566.5 1913.4,1560.6 1930,1559.7 1942.4,1550.3 2054.7,1550.3 2067.1,1560 2084.4,1560.6 2088.5,1568.2 2083,1579.2" fill="none" stroke="#fff" stroke-width="1" stroke-linejoin="round"/>
<path d="M1977.2 1594 L1980.2 1591 H2073.3 V1646.4 Q2073.3 1656.4 2063.3 1656.4 H1937.2 Q1927.2 1656.4 1927.2 1646.4 V1591 H1932.2 V1618 H1937.2 V1622 H1973.2 V1618 H1977.2 Z" fill="#fff" stroke="#333" stroke-width="1.2"/>
<polyline points="1932.2,1618 1945.2,1618 1945.2,1615 1950.2,1615" fill="none" stroke="#333" stroke-width="1.1"/>
<polyline points="1977.2,1618 1965.2,1618 1965.2,1615 1960.2,1615" fill="none" stroke="#333" stroke-width="1.1"/>
<rect x="1914.1" y="1593" width="12.4" height="37.2" fill="#fff" stroke="#333" stroke-width="1.2"/>
<rect x="2074.7" y="1593.7" width="11" height="36.5" fill="#fff" stroke="#333" stroke-width="1.2"/>
<rect x="1934.2" y="1624.7" width="45" height="20" rx="5" fill="#fff" stroke="#333" stroke-width="1.2"/>
<rect x="1984.3" y="1596.2" width="8" height="22" rx="3" fill="#fff" stroke="#333" stroke-width="1.2"/>
<rect x="1984.3" y="1624.7" width="8" height="20" rx="3" fill="#fff" stroke="#333" stroke-width="1.2"/>
<circle cx="2039.6" cy="1621.3" r="18" fill="#fff" stroke="#333" stroke-width="1.2"/>
<circle cx="2039.6" cy="1621.3" r="13.5" fill="#fff" stroke="#333" stroke-width="1.2"/>
<rect x="2058.3" y="1641.4" width="15" height="15" rx="3" fill="#fff" stroke="#333" stroke-width="1.1"/>
<rect x="1984.4" y="1656.4" width="31" height="12.5" fill="#fff" stroke="#333" stroke-width="1.2"/>
<rect x="1987.2" y="1671.6" width="25.5" height="64.8" rx="2" fill="#fff" stroke="#333" stroke-width="1.2"/>
<line x1="1993.3" y1="1672.2" x2="1993.3" y2="1734.2" stroke="#444" stroke-width="0.9" />
<line x1="2007.3" y1="1672.2" x2="2007.3" y2="1734.2" stroke="#444" stroke-width="0.9" />
<polyline points="1912.7,1566.2 1981.8,1566.2 1982.7,1573.6 1985.5,1575.5 2015.1,1575.5 2017.9,1573.6 2018.8,1566.2 2084.5,1566.2" fill="none" stroke="#0a2f5e" stroke-width="3" stroke-linejoin="round" stroke-linecap="round"/>
<polyline points="1922.3,1566.2 1922.3,1588.9 1910.3,1588.9 1910.3,1664 1970.2,1664" fill="none" stroke="#0a2f5e" stroke-width="3" stroke-linejoin="round" stroke-linecap="round"/>
<line x1="1910.3" y1="1632.3" x2="1926.3" y2="1632.3" stroke="#0a2f5e" stroke-width="3" />
<polyline points="2078.3,1566.2 2078.3,1588.9 2090.3,1588.9 2090.3,1664 2030.4,1664" fill="none" stroke="#0a2f5e" stroke-width="3" stroke-linejoin="round" stroke-linecap="round"/>
<line x1="2090.3" y1="1632.3" x2="2074.3" y2="1632.3" stroke="#0a2f5e" stroke-width="3" />
<line x1="2000.3" y1="1562" x2="2000.3" y2="1736" stroke="#333" stroke-width="1.1" stroke-dasharray="22 6 3 6"/>
<line x1="1756.7" y1="1639.5" x2="1756.7" y2="1656" stroke="#2b2b2b" stroke-width="1.4" />
<polygon points="1756.7,1666.7 1751.9,1652.7 1756.7,1654.8 1761.5,1652.7" fill="#2b2b2b"/>
<line x1="1756.7" y1="1716" x2="1756.7" y2="1734.8" stroke="#2b2b2b" stroke-width="1.4" />
<polygon points="1756.7,1705.2 1761.5,1719.2 1756.7,1717.1 1751.9,1719.2" fill="#2b2b2b"/>
<line x1="1756.7" y1="1665.7" x2="1897" y2="1665.7" stroke="#2b2b2b" stroke-width="1.3" />
<text transform="translate(1759.5,1623.4) rotate(-90)" x="0" y="10.1" font-size="28" text-anchor="middle" fill="#022e5e" textLength="14.5" lengthAdjust="spacingAndGlyphs">9</text>
<line x1="2337.6" y1="1556.8" x2="2337.6" y2="1704" stroke="#2b2b2b" stroke-width="1.5" />
<polygon points="2337.6,1554.8 2342.6,1569.3 2337.6,1567.1 2332.6,1569.3" fill="#2b2b2b"/>
<polygon points="2337.6,1706 2332.6,1691.5 2337.6,1693.7 2342.6,1691.5" fill="#2b2b2b"/>
<text transform="translate(2317.6,1641.9) rotate(-90)" x="0" y="10.1" font-size="28" text-anchor="middle" fill="#022e5e" textLength="31" lengthAdjust="spacingAndGlyphs">38</text>
<text x="1962.5" y="1872" font-size="32.5" font-weight="bold" font-style="normal" text-anchor="start" fill="#022e5e" textLength="71.7" lengthAdjust="spacingAndGlyphs" >3611</text>
<rect x="1659" y="1926.2" width="708.6" height="97.6" fill="#cdd5df"/>
<path d="M1781.4 2167.6 H2216.2 V2281 C2186.2,2290 2132.4,2303.4 2092.4,2302.4 C2022.4,2299.4 1933.3,2250 1873.3,2250 C1833.3,2250 1806.4,2267.5 1781.4,2279.5 Z" fill="url(#blindg)"/>
<line x1="1781.4" y1="2167.6" x2="1781.4" y2="2279.5" stroke="#555" stroke-width="1.3" />
<line x1="2216.2" y1="2167.6" x2="2216.2" y2="2281" stroke="#5d6b76" stroke-width="1.2" />
<line x1="1781.4" y1="2211.5" x2="2200" y2="2211.5" stroke="#666" stroke-width="1.1" stroke-dasharray="14 10"/>
<rect x="1977.5" y="2167" width="48.9" height="33.6" fill="#fff" stroke="#555" stroke-width="1"/>
<line x1="1759" y1="2167.6" x2="2216.2" y2="2167.6" stroke="#555" stroke-width="1.1" />
<line x1="2216.2" y1="2167.6" x2="2349.5" y2="2167.6" stroke="#2b2b2b" stroke-width="1.3" />
<rect x="1996.2" y="1966.7" width="11.4" height="58.1" fill="#fff" stroke="#444" stroke-width="1.2"/>
<rect x="2000.3" y="1976.7" width="3.2" height="36" fill="none" stroke="#555" stroke-width="0.9"/>
<polyline points="1997.7,1978.7 2000.7,1981.7 1997.7,1984.7" fill="none" stroke="#666" stroke-width="0.9"/>
<polyline points="2006.1,1978.7 2003.1,1981.7 2006.1,1984.7" fill="none" stroke="#666" stroke-width="0.9"/>
<polyline points="1997.7,1986.7 2000.7,1989.7 1997.7,1992.7" fill="none" stroke="#666" stroke-width="0.9"/>
<polyline points="2006.1,1986.7 2003.1,1989.7 2006.1,1992.7" fill="none" stroke="#666" stroke-width="0.9"/>
<polyline points="1997.7,1994.7 2000.7,1997.7 1997.7,2000.7" fill="none" stroke="#666" stroke-width="0.9"/>
<polyline points="2006.1,1994.7 2003.1,1997.7 2006.1,2000.7" fill="none" stroke="#666" stroke-width="0.9"/>
<polyline points="1997.7,2002.7 2000.7,2005.7 1997.7,2008.7" fill="none" stroke="#666" stroke-width="0.9"/>
<polyline points="2006.1,2002.7 2003.1,2005.7 2006.1,2008.7" fill="none" stroke="#666" stroke-width="0.9"/>
<polyline points="1997.7,2010.7 2000.7,2013.7 1997.7,2016.7" fill="none" stroke="#666" stroke-width="0.9"/>
<polyline points="2006.1,2010.7 2003.1,2013.7 2006.1,2016.7" fill="none" stroke="#666" stroke-width="0.9"/>
<polyline points="1903.5,2060 1903.5,2025.5 2088,2025.5 2092,2032 2085,2042" fill="none" stroke="#444" stroke-width="2.6" stroke-linejoin="round"/>
<rect x="1888" y="2032" width="8" height="16" fill="#fff" stroke="#333" stroke-width="1.2"/>
<rect x="1896" y="2036" width="24" height="6" fill="#fff" stroke="#333" stroke-width="1.2"/>
<path d="M1978.8 2055.4 L1981.8 2052.4 H2074.9 V2107.8 Q2074.9 2117.8 2064.9 2117.8 H1938.8 Q1928.8 2117.8 1928.8 2107.8 V2052.4 H1933.8 V2079.4 H1938.8 V2083.4 H1974.8 V2079.4 H1978.8 Z" fill="#fff" stroke="#333" stroke-width="1.2"/>
<polyline points="1933.8,2079.4 1946.8,2079.4 1946.8,2076.4 1951.8,2076.4" fill="none" stroke="#333" stroke-width="1.1"/>
<polyline points="1978.8,2079.4 1966.8,2079.4 1966.8,2076.4 1961.8,2076.4" fill="none" stroke="#333" stroke-width="1.1"/>
<rect x="1915.7" y="2054.4" width="12.4" height="37.2" fill="#fff" stroke="#333" stroke-width="1.2"/>
<rect x="2076.3" y="2055.1" width="11" height="36.5" fill="#fff" stroke="#333" stroke-width="1.2"/>
<rect x="1935.8" y="2086.1" width="45" height="20" rx="5" fill="#fff" stroke="#333" stroke-width="1.2"/>
<rect x="1985.9" y="2057.6" width="8" height="22" rx="3" fill="#fff" stroke="#333" stroke-width="1.2"/>
<rect x="1985.9" y="2086.1" width="8" height="20" rx="3" fill="#fff" stroke="#333" stroke-width="1.2"/>
<circle cx="2041.2" cy="2082.7" r="18" fill="#fff" stroke="#333" stroke-width="1.2"/>
<circle cx="2041.2" cy="2082.7" r="13.5" fill="#fff" stroke="#333" stroke-width="1.2"/>
<rect x="2059.9" y="2102.8" width="15" height="15" rx="3" fill="#fff" stroke="#333" stroke-width="1.1"/>
<rect x="1986" y="2117.8" width="31" height="12.5" fill="#fff" stroke="#333" stroke-width="1.2"/>
<rect x="1988.8" y="2133" width="25.5" height="64.8" rx="2" fill="#fff" stroke="#333" stroke-width="1.2"/>
<line x1="1994.9" y1="2133.6" x2="1994.9" y2="2195.6" stroke="#444" stroke-width="0.9" />
<line x1="2008.9" y1="2133.6" x2="2008.9" y2="2195.6" stroke="#444" stroke-width="0.9" />
<polyline points="1914.3,2027.6 1983.4,2027.6 1984.3,2035 1987.1,2036.8 2016.7,2036.8 2019.5,2035 2020.4,2027.6 2086.1,2027.6" fill="none" stroke="#0a2f5e" stroke-width="3" stroke-linejoin="round" stroke-linecap="round"/>
<polyline points="1923.9,2027.6 1923.9,2050.3 1911.9,2050.3 1911.9,2125.4 1971.8,2125.4" fill="none" stroke="#0a2f5e" stroke-width="3" stroke-linejoin="round" stroke-linecap="round"/>
<line x1="1911.9" y1="2093.7" x2="1927.9" y2="2093.7" stroke="#0a2f5e" stroke-width="3" />
<polyline points="2079.9,2027.6 2079.9,2050.3 2091.9,2050.3 2091.9,2125.4 2032,2125.4" fill="none" stroke="#0a2f5e" stroke-width="3" stroke-linejoin="round" stroke-linecap="round"/>
<line x1="2091.9" y1="2093.7" x2="2075.9" y2="2093.7" stroke="#0a2f5e" stroke-width="3" />
<line x1="2001.9" y1="2024" x2="2001.9" y2="2200" stroke="#333" stroke-width="1.1" stroke-dasharray="22 6 3 6"/>
<line x1="1759" y1="2100" x2="1759" y2="2117" stroke="#2b2b2b" stroke-width="1.4" />
<polygon points="1759,2127.6 1754.2,2113.6 1759,2115.7 1763.8,2113.6" fill="#2b2b2b"/>
<line x1="1759" y1="2177" x2="1759" y2="2196" stroke="#2b2b2b" stroke-width="1.4" />
<polygon points="1759,2166.7 1763.8,2180.7 1759,2178.6 1754.2,2180.7" fill="#2b2b2b"/>
<line x1="1759" y1="2127.6" x2="1897" y2="2127.6" stroke="#2b2b2b" stroke-width="1.3" />
<text transform="translate(1761.9,2083.8) rotate(-90)" x="0" y="10.1" font-size="28" text-anchor="middle" fill="#022e5e" textLength="14.5" lengthAdjust="spacingAndGlyphs">9</text>
<line x1="2337.6" y1="2030.6" x2="2337.6" y2="2165.5" stroke="#2b2b2b" stroke-width="1.5" />
<polygon points="2337.6,2028.6 2342.6,2043.1 2337.6,2040.9 2332.6,2043.1" fill="#2b2b2b"/>
<polygon points="2337.6,2167.5 2332.6,2153 2337.6,2155.2 2342.6,2153" fill="#2b2b2b"/>
<text transform="translate(2317.6,2109.5) rotate(-90)" x="0" y="10.1" font-size="28" text-anchor="middle" fill="#022e5e" textLength="31" lengthAdjust="spacingAndGlyphs">35</text>
<text x="1962.5" y="2342.9" font-size="32.5" font-weight="bold" font-style="normal" text-anchor="start" fill="#022e5e" textLength="75.7" lengthAdjust="spacingAndGlyphs" >3612</text>
<path d="M137.9 2663.3H591.8V2731H195.9V2910.3H137.9Z" fill="#cdd5df"/>
<text x="277.8" y="2617" font-size="27.5" font-weight="normal" font-style="normal" text-anchor="start" fill="#022e5e" textLength="32.3" lengthAdjust="spacingAndGlyphs" >43</text>
<line x1="200.2" y1="2622.6" x2="387.8" y2="2622.6" stroke="#2b2b2b" stroke-width="1.5" />
<polygon points="198.2,2622.6 209.2,2619 207.5,2622.6 209.2,2626.2" fill="#2b2b2b"/>
<polygon points="389.8,2622.6 378.8,2626.2 380.4,2622.6 378.8,2619" fill="#2b2b2b"/>
<line x1="196.9" y1="2620" x2="196.9" y2="2713" stroke="#2b2b2b" stroke-width="1.3" />
<line x1="389.8" y1="2620" x2="389.8" y2="2663.3" stroke="#2b2b2b" stroke-width="1.3" />
<rect x="384.6" y="2663.3" width="10.7" height="72.7" fill="#fff" stroke="#444" stroke-width="1.2"/>
<rect x="388.4" y="2673.3" width="3.2" height="45.1" fill="none" stroke="#555" stroke-width="0.9"/>
<polyline points="386.1,2675.3 389.1,2678.3 386.1,2681.3" fill="none" stroke="#666" stroke-width="0.9"/>
<polyline points="393.8,2675.3 390.8,2678.3 393.8,2681.3" fill="none" stroke="#666" stroke-width="0.9"/>
<polyline points="386.1,2683.3 389.1,2686.3 386.1,2689.3" fill="none" stroke="#666" stroke-width="0.9"/>
<polyline points="393.8,2683.3 390.8,2686.3 393.8,2689.3" fill="none" stroke="#666" stroke-width="0.9"/>
<polyline points="386.1,2691.3 389.1,2694.3 386.1,2697.3" fill="none" stroke="#666" stroke-width="0.9"/>
<polyline points="393.8,2691.3 390.8,2694.3 393.8,2697.3" fill="none" stroke="#666" stroke-width="0.9"/>
<polyline points="386.1,2699.3 389.1,2702.3 386.1,2705.3" fill="none" stroke="#666" stroke-width="0.9"/>
<polyline points="393.8,2699.3 390.8,2702.3 393.8,2705.3" fill="none" stroke="#666" stroke-width="0.9"/>
<polyline points="386.1,2707.3 389.1,2710.3 386.1,2713.3" fill="none" stroke="#666" stroke-width="0.9"/>
<polyline points="393.8,2707.3 390.8,2710.3 393.8,2713.3" fill="none" stroke="#666" stroke-width="0.9"/>
<path d="M326 2747 L330 2738.5 L447 2738.5" fill="none" stroke="#8096ab" stroke-width="1.6"/>
<path d="M335 2749 H350 Q353 2749 353 2746 V2741 Q353 2737.5 357 2737.5 H423 Q427 2737.5 427 2741 V2746 Q427 2749 430 2749 H445 V2744 H434 V2741 Q434 2733.5 426 2733.5 H354 Q346 2733.5 346 2741 V2744 H335 Z" fill="#8096ab"/>
<rect x="327.9" y="2737.6" width="5.5" height="96.1" rx="0" fill="#0a2f5e"/>
<rect x="327.9" y="2737.6" width="13.8" height="5.1" rx="0" fill="#0a2f5e"/>
<rect x="333.4" y="2773" width="11.5" height="3.6" rx="0" fill="#0a2f5e"/>
<rect x="344.3" y="2768.9" width="3.6" height="17.5" rx="2" fill="#0a2f5e"/>
<rect x="344.3" y="2815.3" width="3.6" height="9.7" rx="2" fill="#0a2f5e"/>
<rect x="331.8" y="2780.4" width="5.6" height="6.1" rx="4" fill="#0a2f5e"/>
<rect x="331.8" y="2814.8" width="5.6" height="5.6" rx="4" fill="#0a2f5e"/>
<rect x="327.9" y="2824.4" width="16.4" height="9.3" rx="4" fill="#0a2f5e"/>
<circle cx="336.1" cy="2826.6" r="2.4" fill="#fff"/>
<rect x="344.3" y="2824.5" width="25.6" height="3.7" rx="0" fill="#0a2f5e"/>
<rect x="366.4" y="2824.5" width="4.3" height="9.2" rx="0" fill="#0a2f5e"/>
<rect x="446.2" y="2737.6" width="5.5" height="96.1" rx="0" fill="#0a2f5e"/>
<rect x="437.9" y="2737.6" width="13.8" height="5.1" rx="0" fill="#0a2f5e"/>
<rect x="434.7" y="2773" width="11.5" height="3.6" rx="0" fill="#0a2f5e"/>
<rect x="431.7" y="2768.9" width="3.6" height="17.5" rx="2" fill="#0a2f5e"/>
<rect x="431.7" y="2815.3" width="3.6" height="9.7" rx="2" fill="#0a2f5e"/>
<rect x="442.2" y="2780.4" width="5.6" height="6.1" rx="4" fill="#0a2f5e"/>
<rect x="442.2" y="2814.8" width="5.6" height="5.6" rx="4" fill="#0a2f5e"/>
<rect x="435.3" y="2824.4" width="16.4" height="9.3" rx="4" fill="#0a2f5e"/>
<circle cx="443.5" cy="2826.6" r="2.4" fill="#fff"/>
<rect x="409.7" y="2824.5" width="25.6" height="3.7" rx="0" fill="#0a2f5e"/>
<rect x="408.9" y="2824.5" width="4.3" height="9.2" rx="0" fill="#0a2f5e"/>
<rect x="327.9" y="2755.1" width="123.8" height="5" rx="0" fill="#0a2f5e"/>
<line x1="389.8" y1="2770" x2="389.8" y2="2885" stroke="#333" stroke-width="1.1" stroke-dasharray="22 6 3 6"/>
<line x1="574.5" y1="2736.3" x2="574.5" y2="2830" stroke="#2b2b2b" stroke-width="1.5" />
<polygon points="574.5,2734.3 578.1,2745.3 574.5,2743.7 570.9,2745.3" fill="#2b2b2b"/>
<polygon points="574.5,2832 570.9,2821 574.5,2822.7 578.1,2821" fill="#2b2b2b"/>
<line x1="460.5" y1="2835.3" x2="577.8" y2="2835.3" stroke="#2b2b2b" stroke-width="1.3" />
<text transform="translate(557.3,2783.2) rotate(-90)" x="0" y="10.1" font-size="28" text-anchor="middle" fill="#022e5e" textLength="31" lengthAdjust="spacingAndGlyphs">36</text>
<text x="251.3" y="2882.6" font-size="27.5" font-weight="normal" font-style="normal" text-anchor="start" fill="#022e5e" textLength="84.7" lengthAdjust="spacingAndGlyphs" >min 50</text>
<line x1="201.8" y1="2888.1" x2="386.8" y2="2888.1" stroke="#2b2b2b" stroke-width="1.5" />
<polygon points="199.8,2888.1 210.8,2884.5 209.2,2888.1 210.8,2891.7" fill="#2b2b2b"/>
<polygon points="388.8,2888.1 377.8,2891.7 379.4,2888.1 377.8,2884.5" fill="#2b2b2b"/>
<rect x="780.2" y="2663" width="57.4" height="332.3" fill="#cdd5df"/>
<rect x="780.2" y="2768.9" width="57.4" height="13" fill="#fff" stroke="#444" stroke-width="1.1"/>
<rect x="788.2" y="2773.8" width="47.4" height="3.2" fill="none" stroke="#666" stroke-width="0.9"/>
<polyline points="789.2,2770.4 792.2,2772.9 795.2,2770.4" fill="none" stroke="#666" stroke-width="0.9"/>
<polyline points="789.2,2780.4 792.2,2777.9 795.2,2780.4" fill="none" stroke="#666" stroke-width="0.9"/>
<polyline points="796.2,2770.4 799.2,2772.9 802.2,2770.4" fill="none" stroke="#666" stroke-width="0.9"/>
<polyline points="796.2,2780.4 799.2,2777.9 802.2,2780.4" fill="none" stroke="#666" stroke-width="0.9"/>
<polyline points="803.2,2770.4 806.2,2772.9 809.2,2770.4" fill="none" stroke="#666" stroke-width="0.9"/>
<polyline points="803.2,2780.4 806.2,2777.9 809.2,2780.4" fill="none" stroke="#666" stroke-width="0.9"/>
<polyline points="810.2,2770.4 813.2,2772.9 816.2,2770.4" fill="none" stroke="#666" stroke-width="0.9"/>
<polyline points="810.2,2780.4 813.2,2777.9 816.2,2780.4" fill="none" stroke="#666" stroke-width="0.9"/>
<rect x="780.2" y="2920.2" width="57.4" height="13" fill="#fff" stroke="#444" stroke-width="1.1"/>
<rect x="788.2" y="2925.1" width="47.4" height="3.2" fill="none" stroke="#666" stroke-width="0.9"/>
<polyline points="789.2,2921.7 792.2,2924.2 795.2,2921.7" fill="none" stroke="#666" stroke-width="0.9"/>
<polyline points="789.2,2931.7 792.2,2929.2 795.2,2931.7" fill="none" stroke="#666" stroke-width="0.9"/>
<polyline points="796.2,2921.7 799.2,2924.2 802.2,2921.7" fill="none" stroke="#666" stroke-width="0.9"/>
<polyline points="796.2,2931.7 799.2,2929.2 802.2,2931.7" fill="none" stroke="#666" stroke-width="0.9"/>
<polyline points="803.2,2921.7 806.2,2924.2 809.2,2921.7" fill="none" stroke="#666" stroke-width="0.9"/>
<polyline points="803.2,2931.7 806.2,2929.2 809.2,2931.7" fill="none" stroke="#666" stroke-width="0.9"/>
<polyline points="810.2,2921.7 813.2,2924.2 816.2,2921.7" fill="none" stroke="#666" stroke-width="0.9"/>
<polyline points="810.2,2931.7 813.2,2929.2 816.2,2931.7" fill="none" stroke="#666" stroke-width="0.9"/>
<g>
<rect x="1024.8" y="2746.3" width="182" height="25.6" fill="url(#arm)" stroke="#1a1a1a" stroke-width="2.2"/>
<path d="M837.6,2731.3 L1024.8,2731.3 L1024.8,2784.4 C1024.8,2795.8 1020.6,2799.6 1012,2801.3 C941.9,2809 889.7,2835.6 883.1,2897.2 L876.9,2951.2 C875.5,2964.5 870.8,2969.7 864.1,2969.7 L837.6,2969.7 Z" fill="url(#brk)" stroke="#1a1a1a" stroke-width="2.5" stroke-linejoin="round"/>
<path d="M1023.9,2784 L937.1,2799.6 C904,2806.2 885,2821.4 881.2,2854.5 L858.9,2969.2" fill="none" stroke="#c3c7cb" stroke-width="4" transform="translate(2,1.6)"/>
<path d="M1023.9,2784 L937.1,2799.6 C904,2806.2 885,2821.4 881.2,2854.5 L858.9,2969.2" fill="none" stroke="#3a3a3a" stroke-width="1.1"/>
</g>
<text x="899.6" y="2699.7" font-size="27.5" font-weight="normal" font-style="normal" text-anchor="start" fill="#022e5e" textLength="228" lengthAdjust="spacingAndGlyphs" >105 min - 195 max</text>
<line x1="841.7" y1="2710.2" x2="1180.6" y2="2710.2" stroke="#2b2b2b" stroke-width="1.5" />
<polygon points="839.7,2710.2 850.7,2706.6 849.1,2710.2 850.7,2713.8" fill="#2b2b2b"/>
<polygon points="1182.6,2710.2 1171.6,2713.8 1173.2,2710.2 1171.6,2706.6" fill="#2b2b2b"/>
<line x1="1182.6" y1="2705" x2="1182.6" y2="2740.3" stroke="#2b2b2b" stroke-width="1.3" />
<path d="M1052 2787 L1056 2777 L1178 2777" fill="none" stroke="#8096ab" stroke-width="1.6"/>
<path d="M1065.5 2787 H1080 Q1083 2787 1083 2784 V2779 Q1083 2775.5 1087 2775.5 H1153 Q1157 2775.5 1157 2779 V2784 Q1157 2787 1160 2787 H1175 V2782 H1164 V2779 Q1164 2771.5 1156 2771.5 H1084 Q1076 2771.5 1076 2779 V2782 H1065.5 Z" fill="#8096ab"/>
<rect x="1058.6" y="2775.8" width="5.5" height="97.7" rx="0" fill="#0a2f5e"/>
<rect x="1058.6" y="2775.8" width="13.7" height="5.2" rx="0" fill="#0a2f5e"/>
<rect x="1064.1" y="2811.8" width="11.5" height="3.7" rx="0" fill="#0a2f5e"/>
<rect x="1074.9" y="2807.6" width="3.6" height="17.8" rx="2" fill="#0a2f5e"/>
<rect x="1074.9" y="2854.8" width="3.6" height="9.9" rx="2" fill="#0a2f5e"/>
<rect x="1062.5" y="2819.3" width="5.6" height="6.2" rx="4" fill="#0a2f5e"/>
<rect x="1062.5" y="2854.3" width="5.6" height="5.6" rx="4" fill="#0a2f5e"/>
<rect x="1058.6" y="2864" width="16.3" height="9.5" rx="4" fill="#0a2f5e"/>
<circle cx="1066.8" cy="2866.3" r="2.4" fill="#fff"/>
<rect x="1074.9" y="2864.2" width="25.5" height="3.8" rx="0" fill="#0a2f5e"/>
<rect x="1097" y="2864.2" width="4.2" height="9.3" rx="0" fill="#0a2f5e"/>
<rect x="1176.5" y="2775.8" width="5.5" height="97.7" rx="0" fill="#0a2f5e"/>
<rect x="1168.3" y="2775.8" width="13.7" height="5.2" rx="0" fill="#0a2f5e"/>
<rect x="1165" y="2811.8" width="11.5" height="3.7" rx="0" fill="#0a2f5e"/>
<rect x="1162.1" y="2807.6" width="3.6" height="17.8" rx="2" fill="#0a2f5e"/>
<rect x="1162.1" y="2854.8" width="3.6" height="9.9" rx="2" fill="#0a2f5e"/>
<rect x="1172.5" y="2819.3" width="5.6" height="6.2" rx="4" fill="#0a2f5e"/>
<rect x="1172.5" y="2854.3" width="5.6" height="5.6" rx="4" fill="#0a2f5e"/>
<rect x="1165.7" y="2864" width="16.3" height="9.5" rx="4" fill="#0a2f5e"/>
<circle cx="1173.8" cy="2866.3" r="2.4" fill="#fff"/>
<rect x="1140.2" y="2864.2" width="25.5" height="3.8" rx="0" fill="#0a2f5e"/>
<rect x="1139.4" y="2864.2" width="4.2" height="9.3" rx="0" fill="#0a2f5e"/>
<rect x="1058.6" y="2793.6" width="123.4" height="5.1" rx="0" fill="#0a2f5e"/>
<text x="1011.7" y="3018.8" font-size="32.5" font-weight="bold" font-style="normal" text-anchor="start" fill="#022e5e" textLength="178" lengthAdjust="spacingAndGlyphs" >4142 + 4081</text>
<path d="M137.9 3290H625.1V3358.6H210.7V3541H137.9Z" fill="#cdd5df"/>
<rect x="210.7" y="3360" width="197.5" height="121.1" rx="9" fill="#fff" stroke="#444" stroke-width="1.6"/>
<line x1="214" y1="3421.9" x2="405" y2="3421.9" stroke="#777" stroke-width="1.2" />
<text x="456.1" y="3242.6" font-size="27.5" font-weight="normal" font-style="normal" text-anchor="start" fill="#022e5e" textLength="31.6" lengthAdjust="spacingAndGlyphs" >43</text>
<line x1="411.2" y1="3248.7" x2="532.4" y2="3248.7" stroke="#2b2b2b" stroke-width="1.5" />
<polygon points="409.2,3248.7 420.2,3245.1 418.6,3248.7 420.2,3252.3" fill="#2b2b2b"/>
<polygon points="534.4,3248.7 523.4,3252.3 525,3248.7 523.4,3245.1" fill="#2b2b2b"/>
<line x1="408.2" y1="3246" x2="408.2" y2="3340.7" stroke="#2b2b2b" stroke-width="1.3" />
<line x1="535" y1="3246" x2="535" y2="3349" stroke="#2b2b2b" stroke-width="1.3" />
<rect x="466.8" y="3299" width="11.1" height="67" fill="#fff" stroke="#444" stroke-width="1.2"/>
<rect x="470.8" y="3309" width="3.2" height="41.5" fill="none" stroke="#555" stroke-width="0.9"/>
<polyline points="468.3,3311 471.3,3314 468.3,3317" fill="none" stroke="#666" stroke-width="0.9"/>
<polyline points="476.4,3311 473.4,3314 476.4,3317" fill="none" stroke="#666" stroke-width="0.9"/>
<polyline points="468.3,3319 471.3,3322 468.3,3325" fill="none" stroke="#666" stroke-width="0.9"/>
<polyline points="476.4,3319 473.4,3322 476.4,3325" fill="none" stroke="#666" stroke-width="0.9"/>
<polyline points="468.3,3327 471.3,3330 468.3,3333" fill="none" stroke="#666" stroke-width="0.9"/>
<polyline points="476.4,3327 473.4,3330 476.4,3333" fill="none" stroke="#666" stroke-width="0.9"/>
<polyline points="468.3,3335 471.3,3338 468.3,3341" fill="none" stroke="#666" stroke-width="0.9"/>
<polyline points="476.4,3335 473.4,3338 476.4,3341" fill="none" stroke="#666" stroke-width="0.9"/>
<polyline points="468.3,3343 471.3,3346 468.3,3349" fill="none" stroke="#666" stroke-width="0.9"/>
<polyline points="476.4,3343 473.4,3346 476.4,3349" fill="none" stroke="#666" stroke-width="0.9"/>
<path d="M403 3373 L407 3365 L530 3365" fill="none" stroke="#8096ab" stroke-width="1.6"/>
<path d="M416.5 3377 H431 Q434 3377 434 3374 V3369 Q434 3365.5 438 3365.5 H505 Q509 3365.5 509 3369 V3374 Q509 3377 512 3377 H527 V3372 H516 V3369 Q516 3361.5 508 3361.5 H436 Q428 3361.5 428 3369 V3372 H416.5 Z" fill="#8096ab"/>
<rect x="409.2" y="3364.4" width="5.6" height="99.8" rx="0" fill="#0a2f5e"/>
<rect x="409.2" y="3364.4" width="13.9" height="5.3" rx="0" fill="#0a2f5e"/>
<rect x="414.8" y="3401.2" width="11.7" height="3.8" rx="0" fill="#0a2f5e"/>
<rect x="425.8" y="3396.9" width="3.6" height="18.2" rx="2" fill="#0a2f5e"/>
<rect x="425.8" y="3445.1" width="3.6" height="10.1" rx="2" fill="#0a2f5e"/>
<rect x="413.2" y="3408.8" width="5.6" height="6.3" rx="4" fill="#0a2f5e"/>
<rect x="413.2" y="3444.6" width="5.6" height="5.8" rx="4" fill="#0a2f5e"/>
<rect x="409.2" y="3454.5" width="16.6" height="9.7" rx="4" fill="#0a2f5e"/>
<circle cx="417.5" cy="3456.8" r="2.4" fill="#fff"/>
<rect x="425.8" y="3454.7" width="25.9" height="3.8" rx="0" fill="#0a2f5e"/>
<rect x="448.1" y="3454.7" width="4.3" height="9.5" rx="0" fill="#0a2f5e"/>
<rect x="528.8" y="3364.4" width="5.6" height="99.8" rx="0" fill="#0a2f5e"/>
<rect x="520.5" y="3364.4" width="13.9" height="5.3" rx="0" fill="#0a2f5e"/>
<rect x="517.2" y="3401.2" width="11.7" height="3.8" rx="0" fill="#0a2f5e"/>
<rect x="514.2" y="3396.9" width="3.6" height="18.2" rx="2" fill="#0a2f5e"/>
<rect x="514.2" y="3445.1" width="3.6" height="10.1" rx="2" fill="#0a2f5e"/>
<rect x="524.8" y="3408.8" width="5.6" height="6.3" rx="4" fill="#0a2f5e"/>
<rect x="524.8" y="3444.6" width="5.6" height="5.8" rx="4" fill="#0a2f5e"/>
<rect x="517.8" y="3454.5" width="16.6" height="9.7" rx="4" fill="#0a2f5e"/>
<circle cx="526.1" cy="3456.8" r="2.4" fill="#fff"/>
<rect x="492" y="3454.7" width="25.9" height="3.8" rx="0" fill="#0a2f5e"/>
<rect x="491.2" y="3454.7" width="4.3" height="9.5" rx="0" fill="#0a2f5e"/>
<rect x="409.2" y="3382.6" width="125.2" height="5.2" rx="0" fill="#0a2f5e"/>
<line x1="472.5" y1="3398" x2="472.5" y2="3515" stroke="#333" stroke-width="1.1" stroke-dasharray="22 6 3 6"/>
<line x1="577.4" y1="3363" x2="577.4" y2="3459.8" stroke="#2b2b2b" stroke-width="1.5" />
<polygon points="577.4,3361 581,3372 577.4,3370.3 573.8,3372" fill="#2b2b2b"/>
<polygon points="577.4,3461.8 573.8,3450.8 577.4,3452.5 581,3450.8" fill="#2b2b2b"/>
<line x1="544.6" y1="3465.2" x2="580" y2="3465.2" stroke="#2b2b2b" stroke-width="1.3" />
<text transform="translate(560.5,3411.7) rotate(-90)" x="0" y="10.1" font-size="28" text-anchor="middle" fill="#022e5e" textLength="31" lengthAdjust="spacingAndGlyphs">36</text>
<text x="292.8" y="3511.5" font-size="27.5" font-weight="normal" font-style="normal" text-anchor="start" fill="#022e5e" textLength="98.7" lengthAdjust="spacingAndGlyphs" >min 120</text>
<line x1="218.4" y1="3518.3" x2="468.1" y2="3518.3" stroke="#2b2b2b" stroke-width="1.5" />
<polygon points="216.4,3518.3 227.4,3514.7 225.8,3518.3 227.4,3521.9" fill="#2b2b2b"/>
<polygon points="470.1,3518.3 459.1,3521.9 460.8,3518.3 459.1,3514.7" fill="#2b2b2b"/>
<rect x="1659" y="2602.9" width="705.8" height="95.2" fill="#cdd5df"/>
<path d="M1694.8 2937.1 H2237.6 V3459.5 C2207.6,3468.5 2127.6,3489.1 2087.6,3488.1 C2017.6,3485.1 1873.8,3421.9 1813.8,3421.9 C1773.8,3421.9 1719.8,3447.5 1694.8,3459.5 Z" fill="url(#blindg)"/>
<line x1="1694.8" y1="2937.1" x2="1694.8" y2="3459.5" stroke="#555" stroke-width="1.3" />
<line x1="2237.6" y1="2937.1" x2="2237.6" y2="3459.5" stroke="#5d6b76" stroke-width="1.2" />
<path d="M1694.8 2945 Q1694.8 2937.1 1702 2937.1 H2230 Q2237.6 2937.1 2237.6 2945" fill="none" stroke="#444" stroke-width="1.3"/>
<line x1="1694.8" y1="2992" x2="2230" y2="2992" stroke="#222" stroke-width="1.5" stroke-dasharray="11 8"/>
<rect x="1959" y="2611" width="15.8" height="89" fill="#fff" stroke="#444" stroke-width="1.2"/>
<rect x="1965.3" y="2621" width="3.2" height="55.2" fill="none" stroke="#555" stroke-width="0.9"/>
<polyline points="1960.5,2623 1963.5,2626 1960.5,2629" fill="none" stroke="#666" stroke-width="0.9"/>
<polyline points="1973.3,2623 1970.3,2626 1973.3,2629" fill="none" stroke="#666" stroke-width="0.9"/>
<polyline points="1960.5,2631 1963.5,2634 1960.5,2637" fill="none" stroke="#666" stroke-width="0.9"/>
<polyline points="1973.3,2631 1970.3,2634 1973.3,2637" fill="none" stroke="#666" stroke-width="0.9"/>
<polyline points="1960.5,2639 1963.5,2642 1960.5,2645" fill="none" stroke="#666" stroke-width="0.9"/>
<polyline points="1973.3,2639 1970.3,2642 1973.3,2645" fill="none" stroke="#666" stroke-width="0.9"/>
<polyline points="1960.5,2647 1963.5,2650 1960.5,2653" fill="none" stroke="#666" stroke-width="0.9"/>
<polyline points="1973.3,2647 1970.3,2650 1973.3,2653" fill="none" stroke="#666" stroke-width="0.9"/>
<polyline points="1960.5,2655 1963.5,2658 1960.5,2661" fill="none" stroke="#666" stroke-width="0.9"/>
<polyline points="1973.3,2655 1970.3,2658 1973.3,2661" fill="none" stroke="#666" stroke-width="0.9"/>
<rect x="1872.3" y="2705.1" width="8.4" height="150.6" rx="0" fill="#0a2f5e"/>
<rect x="1872.3" y="2705.1" width="21" height="8" rx="0" fill="#0a2f5e"/>
<rect x="1880.7" y="2760.6" width="17.6" height="5.7" rx="0" fill="#0a2f5e"/>
<rect x="1897.3" y="2754.1" width="5.5" height="27.4" rx="2" fill="#0a2f5e"/>
<rect x="1897.3" y="2826.9" width="5.5" height="15.2" rx="2" fill="#0a2f5e"/>
<rect x="1878.3" y="2772.1" width="8.5" height="9.5" rx="4" fill="#0a2f5e"/>
<rect x="1878.3" y="2826.1" width="8.5" height="8.7" rx="4" fill="#0a2f5e"/>
<rect x="1872.3" y="2841.1" width="25" height="14.6" rx="4" fill="#0a2f5e"/>
<circle cx="1884.8" cy="2844.6" r="3.6" fill="#fff"/>
<rect x="1897.3" y="2841.3" width="39" height="5.8" rx="0" fill="#0a2f5e"/>
<rect x="1931" y="2841.3" width="6.5" height="14.4" rx="0" fill="#0a2f5e"/>
<rect x="2052.7" y="2705.1" width="8.4" height="150.6" rx="0" fill="#0a2f5e"/>
<rect x="2040.1" y="2705.1" width="21" height="8" rx="0" fill="#0a2f5e"/>
<rect x="2035.1" y="2760.6" width="17.6" height="5.7" rx="0" fill="#0a2f5e"/>
<rect x="2030.6" y="2754.1" width="5.5" height="27.4" rx="2" fill="#0a2f5e"/>
<rect x="2030.6" y="2826.9" width="5.5" height="15.2" rx="2" fill="#0a2f5e"/>
<rect x="2046.6" y="2772.1" width="8.5" height="9.5" rx="4" fill="#0a2f5e"/>
<rect x="2046.6" y="2826.1" width="8.5" height="8.7" rx="4" fill="#0a2f5e"/>
<rect x="2036.1" y="2841.1" width="25" height="14.6" rx="4" fill="#0a2f5e"/>
<circle cx="2048.6" cy="2844.6" r="3.6" fill="#fff"/>
<rect x="1997.1" y="2841.3" width="39" height="5.8" rx="0" fill="#0a2f5e"/>
<rect x="1995.9" y="2841.3" width="6.5" height="14.4" rx="0" fill="#0a2f5e"/>
<rect x="1872.3" y="2732.5" width="188.8" height="7.9" rx="0" fill="#0a2f5e"/>
<polyline points="1857.9,2716.7 1867.3,2698.6 2028.7,2698.6 2031.6,2714.5 2050.3,2714.5 2050.3,2725.3 2018.6,2725.3 2016.5,2703 1917.7,2703 1915.6,2725.3 1884.6,2725.3 1884.6,2714.5 1903.3,2714.5 1904.8,2700" fill="none" stroke="#111" stroke-width="4.2" stroke-linejoin="round"/>
<polyline points="1857.9,2716.7 1867.3,2698.6 2028.7,2698.6 2031.6,2714.5 2050.3,2714.5 2050.3,2725.3 2018.6,2725.3 2016.5,2703 1917.7,2703 1915.6,2725.3 1884.6,2725.3 1884.6,2714.5 1903.3,2714.5 1904.8,2700" fill="none" stroke="#fff" stroke-width="1.6" stroke-linejoin="round"/>
<polygon points="1960,2701 1974,2701 1976,2707 1958,2707" fill="#fff" stroke="#222" stroke-width="1.2"/>
<path d="M1926.4 2781.5 V2748 H1941 L1944 2752 L1947 2748 H1961 V2781.5" fill="#fff" stroke="#111" stroke-width="1.6"/>
<rect x="1937" y="2754" width="11" height="27" fill="#fff" stroke="#111" stroke-width="1.4"/>
<rect x="1908.4" y="2781.5" width="108.8" height="59.1" rx="3" fill="#fff" stroke="#111" stroke-width="1.8"/>
<rect x="1909.8" y="2788.7" width="20.2" height="43.3" fill="#dcdde0" stroke="#111" stroke-width="1.4"/>
<rect x="1953" y="2795.9" width="26" height="36.1" fill="#dcdde0" stroke="#111" stroke-width="1.4"/>
<rect x="1992.7" y="2788.7" width="16.5" height="43.3" fill="#dcdde0" stroke="#111" stroke-width="1.4"/>
<path d="M1921.3 2848.5 H1945 V2840.6 M1987 2840.6 V2860 H2008 Q2012 2860 2010 2864 Q2009 2866.5 2005 2866.5 H1926 Q1921.3 2866.5 1921.3 2862 Z" fill="#fff" stroke="#111" stroke-width="1.6"/>
<rect x="1950.9" y="2842" width="30.2" height="15.2" fill="#dcdde0" stroke="#111" stroke-width="1.4"/>
<rect x="1950.2" y="2872.3" width="30.9" height="91.5" rx="2" fill="#f0f1f2" stroke="#111" stroke-width="1.3"/>
<line x1="1957" y1="2875" x2="1957" y2="2940" stroke="#333" stroke-width="1" />
<line x1="1974" y1="2875" x2="1974" y2="2940" stroke="#333" stroke-width="1" />
<polygon points="1956,2955 1975,2955 1979,2969 1952,2969" fill="#e6e6e6" stroke="#333" stroke-width="1"/>
<line x1="1946" y1="2937" x2="1946" y2="2972" stroke="#333" stroke-width="1.1" />
<line x1="1985" y1="2937" x2="1985" y2="2972" stroke="#333" stroke-width="1.1" />
<line x1="1946" y1="2971" x2="1985" y2="2971" stroke="#333" stroke-width="1.1" />
<line x1="2221.9" y1="2702" x2="2221.9" y2="2854.2" stroke="#2b2b2b" stroke-width="1.5" />
<polygon points="2221.9,2700 2226.9,2714.5 2221.9,2712.3 2216.9,2714.5" fill="#2b2b2b"/>
<polygon points="2221.9,2856.2 2216.9,2841.7 2221.9,2843.9 2226.9,2841.7" fill="#2b2b2b"/>
<line x1="2056.7" y1="2856.2" x2="2230.5" y2="2856.2" stroke="#2b2b2b" stroke-width="1.3" />
<text transform="translate(2200.9,2784.8) rotate(-90)" x="0" y="10.1" font-size="28" text-anchor="middle" fill="#022e5e" textLength="31" lengthAdjust="spacingAndGlyphs">35</text>
<line x1="2332.9" y1="2702" x2="2332.9" y2="2934.2" stroke="#2b2b2b" stroke-width="1.5" />
<polygon points="2332.9,2700 2337.9,2714.5 2332.9,2712.3 2327.9,2714.5" fill="#2b2b2b"/>
<polygon points="2332.9,2936.2 2327.9,2921.7 2332.9,2923.9 2337.9,2921.7" fill="#2b2b2b"/>
<line x1="2242.4" y1="2936.2" x2="2347.1" y2="2936.2" stroke="#2b2b2b" stroke-width="1.3" />
<text transform="translate(2310.4,2825.2) rotate(-90)" x="0" y="10.1" font-size="28" text-anchor="middle" fill="#022e5e" textLength="31" lengthAdjust="spacingAndGlyphs">52</text></svg></body></html>
